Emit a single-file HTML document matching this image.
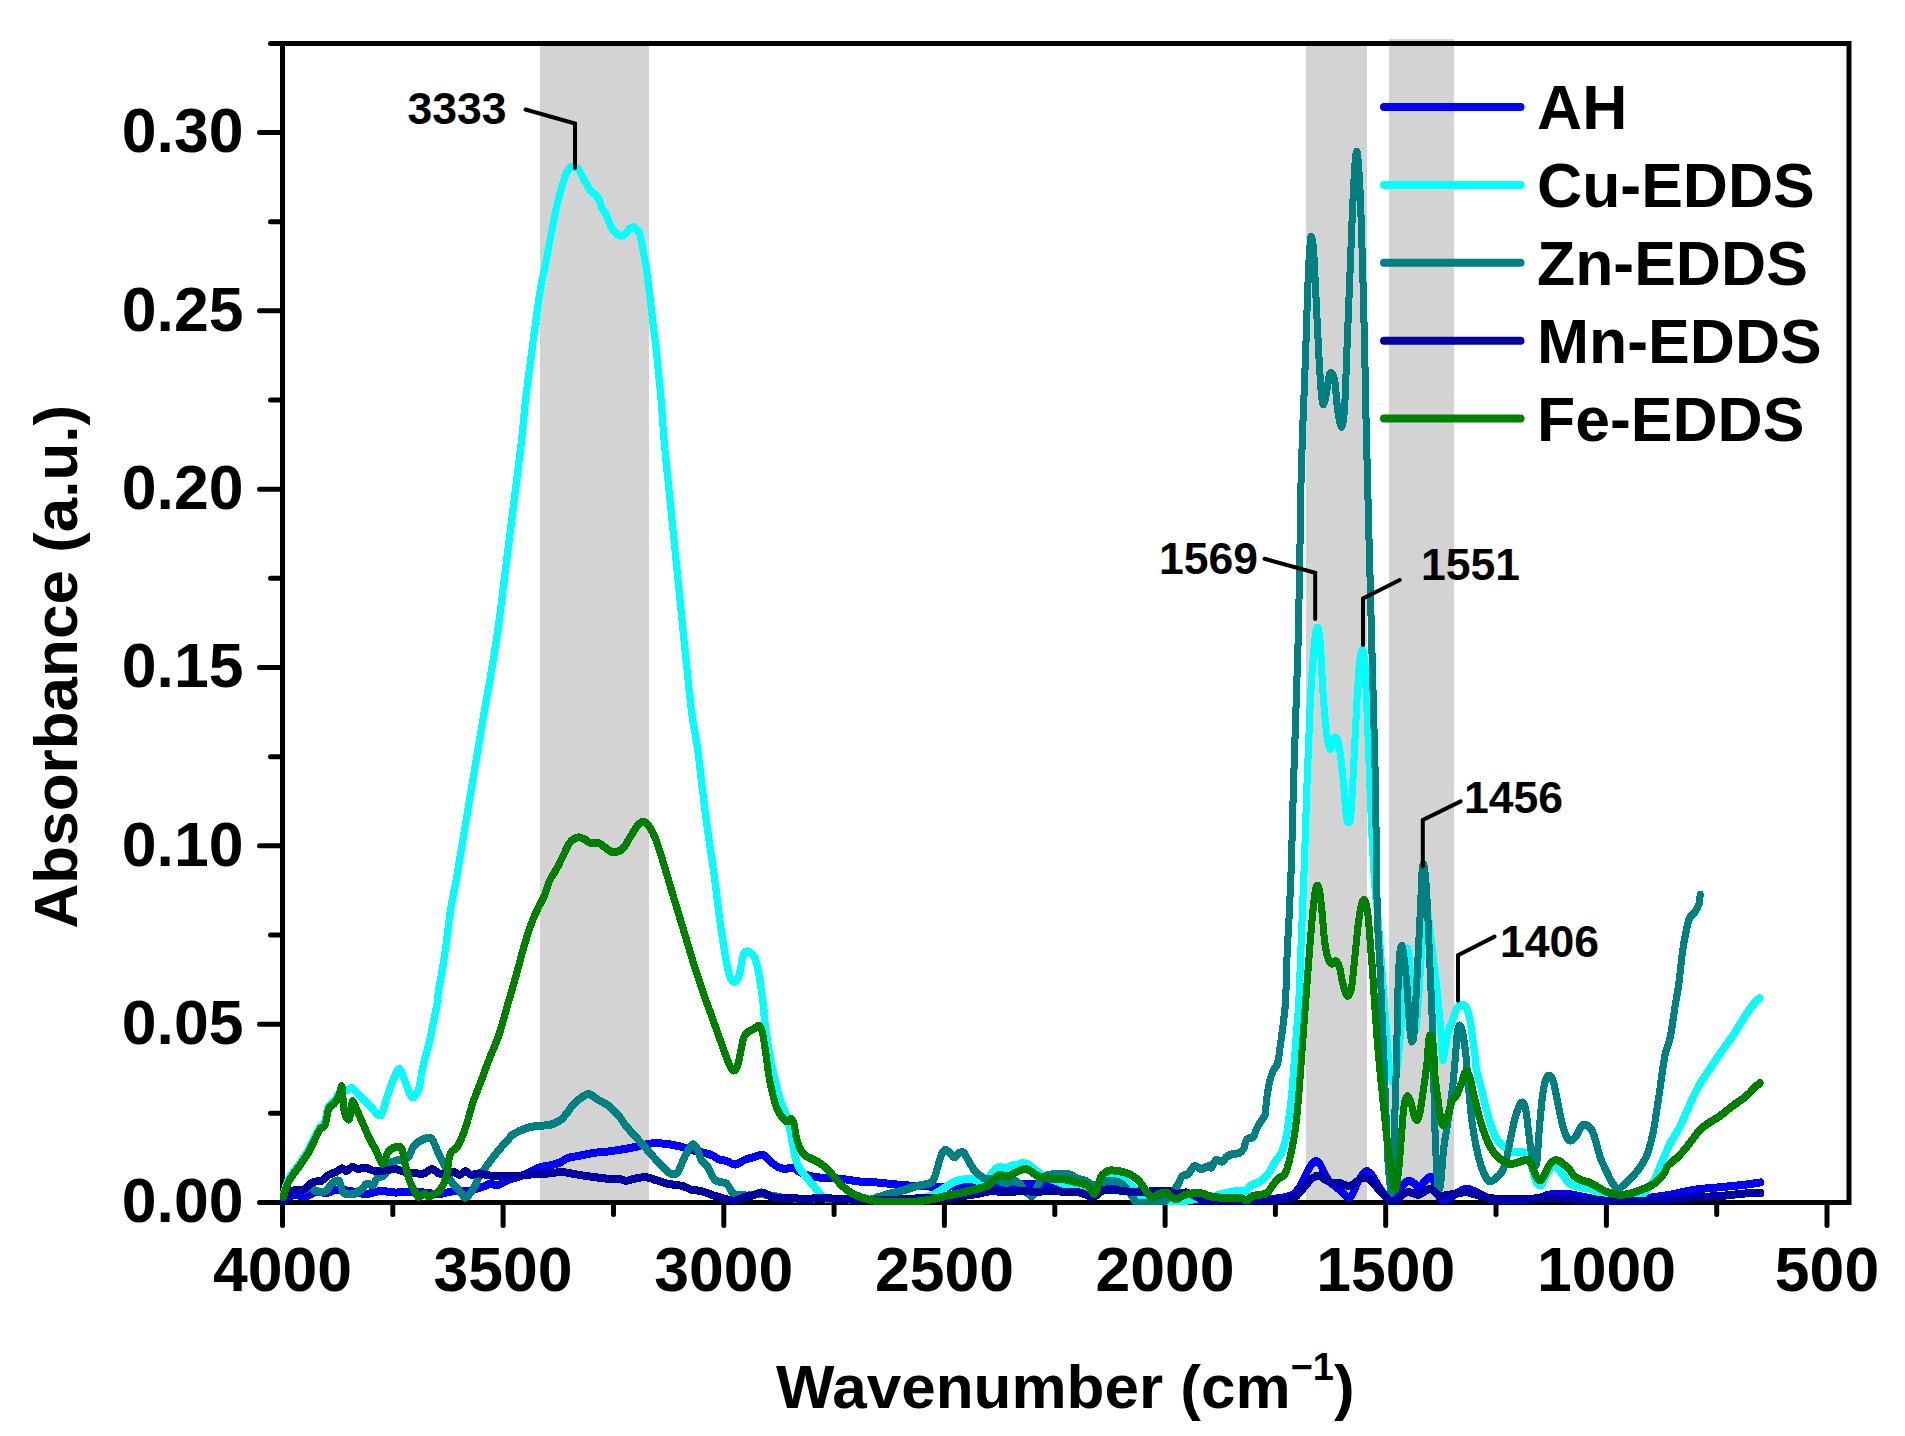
<!DOCTYPE html>
<html lang="en"><head><meta charset="utf-8">
<style>
html,body{margin:0;padding:0;background:#fff;}
body{width:1905px;height:1436px;overflow:hidden;}
svg{display:block;}
text{font-family:"Liberation Sans",Arial,Helvetica,sans-serif;font-weight:bold;fill:#000;}
.t{font-size:62.5px;}
.a{font-size:44.5px;}
.c{fill:none;stroke-width:7.0;stroke-linecap:round;stroke-linejoin:round;}
.k{fill:none;stroke:#000;stroke-width:4;stroke-linecap:round;stroke-linejoin:miter;}
.x{stroke:#000;stroke-width:5;stroke-linecap:round;fill:none;}
</style></head><body>
<svg width="1905" height="1436" viewBox="0 0 1905 1436">
<rect x="0" y="0" width="1905" height="1436" fill="#fff"/>
<g fill="#d3d3d3" shape-rendering="crispEdges">
<rect x="540" y="44" width="109" height="1158"/>
<rect x="1306" y="44" width="61" height="1158"/>
<rect x="1389" y="39" width="65" height="1163"/>
</g>
<g class="x">
<path stroke-linecap="square" d="M282.5 43.5H1849.0V1202.5H282.5Z"/>
<path d="M282.5 1202.5H259.5"/>
<path d="M282.5 1113.3H270.5"/>
<path d="M282.5 1024.2H259.5"/>
<path d="M282.5 935.0H270.5"/>
<path d="M282.5 845.8H259.5"/>
<path d="M282.5 756.7H270.5"/>
<path d="M282.5 667.5H259.5"/>
<path d="M282.5 578.3H270.5"/>
<path d="M282.5 489.2H259.5"/>
<path d="M282.5 400.0H270.5"/>
<path d="M282.5 310.8H259.5"/>
<path d="M282.5 221.7H270.5"/>
<path d="M282.5 132.5H259.5"/>
<path d="M282.5 43.5H270.5"/>
<path d="M282.5 1202.5V1225.5"/>
<path d="M392.8 1202.5V1214.5"/>
<path d="M503.1 1202.5V1225.5"/>
<path d="M613.5 1202.5V1214.5"/>
<path d="M723.8 1202.5V1225.5"/>
<path d="M834.1 1202.5V1214.5"/>
<path d="M944.4 1202.5V1225.5"/>
<path d="M1054.8 1202.5V1214.5"/>
<path d="M1165.1 1202.5V1225.5"/>
<path d="M1275.4 1202.5V1214.5"/>
<path d="M1385.7 1202.5V1225.5"/>
<path d="M1496.0 1202.5V1214.5"/>
<path d="M1606.4 1202.5V1225.5"/>
<path d="M1716.7 1202.5V1214.5"/>
<path d="M1827.0 1202.5V1225.5"/>
</g>
<clipPath id="cp"><rect x="280.0" y="41.0" width="1571.5" height="1164.0"/></clipPath>
<g class="c" clip-path="url(#cp)" shape-rendering="crispEdges">
<path stroke="#0000ff" transform="translate(0 -0.5)" d="M283.2 1202.1C284.7 1201.0 288.1 1196.5 292.0 1195.5C296.0 1194.5 303.1 1196.7 306.7 1196.2C310.4 1195.7 310.4 1193.2 314.1 1192.5C317.8 1191.9 325.1 1193.0 328.8 1192.5C332.5 1192.1 332.5 1189.9 336.1 1189.6C339.8 1189.4 345.9 1190.3 350.8 1191.1C355.7 1191.8 360.6 1194.0 365.5 1194.0C370.4 1194.0 375.3 1191.3 380.2 1191.1C385.1 1190.8 390.0 1192.4 394.9 1192.5C399.8 1192.7 404.7 1191.8 409.6 1191.8C414.5 1191.8 419.4 1192.2 424.3 1192.5C429.2 1192.9 434.1 1194.3 439.0 1194.0C443.9 1193.8 448.8 1191.6 453.7 1191.1C458.6 1190.6 463.5 1191.8 468.4 1191.1C473.3 1190.3 479.4 1187.9 483.1 1186.7C486.8 1185.4 488.0 1184.0 490.5 1183.7C492.9 1183.5 494.9 1185.8 497.8 1185.2C500.8 1184.6 504.4 1181.5 508.1 1180.1C511.8 1178.6 516.7 1177.5 519.9 1176.4C523.1 1175.3 524.0 1174.9 527.2 1173.4C530.4 1172.0 535.2 1168.9 539.0 1167.6C542.8 1166.2 546.4 1166.2 550.0 1165.4C553.6 1164.5 557.3 1163.6 560.3 1162.4C563.2 1161.2 564.5 1159.1 567.6 1158.0C570.8 1156.9 575.0 1156.7 579.4 1155.8C583.8 1154.9 589.2 1153.6 594.1 1152.9C599.0 1152.1 603.9 1152.0 608.8 1151.4C613.7 1150.8 619.1 1149.9 623.5 1149.2C627.9 1148.5 631.8 1147.7 635.2 1147.0C638.7 1146.2 641.1 1145.4 644.1 1144.8C647.0 1144.2 649.0 1143.4 652.9 1143.3C656.8 1143.2 662.7 1143.4 667.6 1144.0C672.5 1144.7 678.4 1146.0 682.3 1147.0C686.2 1148.0 687.4 1148.9 691.1 1149.9C694.8 1150.9 700.9 1152.0 704.3 1152.9C707.8 1153.7 709.2 1154.0 711.7 1155.1C714.1 1156.2 716.6 1158.5 719.0 1159.5C721.5 1160.5 723.7 1160.1 726.4 1160.9C729.1 1161.8 732.3 1164.7 735.2 1164.6C738.1 1164.5 741.1 1161.4 744.0 1160.2C747.0 1159.0 750.1 1158.1 752.8 1157.3C755.5 1156.4 758.2 1155.3 760.2 1155.1C762.1 1154.8 762.9 1154.7 764.6 1155.8C766.3 1156.9 768.3 1159.8 770.5 1161.7C772.7 1163.5 775.4 1165.6 777.8 1166.8C780.3 1168.0 782.7 1168.9 785.2 1169.0C787.6 1169.2 790.1 1167.1 792.5 1167.6C795.0 1168.0 797.2 1170.6 799.9 1172.0C802.6 1173.3 805.0 1174.7 808.7 1175.6C812.4 1176.6 818.4 1177.5 821.9 1177.8C825.5 1178.2 826.2 1177.6 830.0 1177.8C833.8 1178.1 839.8 1178.7 844.7 1179.3C849.6 1179.9 854.5 1181.0 859.4 1181.5C864.3 1182.0 869.2 1181.9 874.1 1182.3C879.0 1182.6 883.9 1183.2 888.8 1183.7C893.7 1184.2 898.6 1184.8 903.5 1185.2C908.4 1185.6 913.3 1185.7 918.2 1185.9C923.1 1186.2 928.0 1186.5 932.9 1186.7C937.8 1186.8 942.7 1186.8 947.6 1186.7C952.5 1186.5 957.4 1186.1 962.3 1185.9C967.2 1185.8 972.1 1185.8 977.0 1185.9C981.9 1186.1 987.3 1186.2 991.7 1186.7C996.1 1187.2 999.5 1189.0 1003.4 1188.9C1007.4 1188.7 1011.0 1186.8 1015.2 1185.9C1019.4 1185.1 1023.8 1183.8 1028.4 1183.7C1033.1 1183.6 1038.2 1184.7 1043.1 1185.2C1048.0 1185.7 1052.9 1186.4 1057.8 1186.7C1062.7 1186.9 1067.6 1186.4 1072.5 1186.7C1077.4 1186.9 1082.3 1187.9 1087.2 1188.1C1092.1 1188.4 1098.1 1188.1 1101.9 1188.1C1105.7 1188.1 1106.2 1187.9 1110.0 1188.1C1113.8 1188.4 1119.8 1189.1 1124.7 1189.6C1129.6 1190.1 1134.5 1190.3 1139.4 1191.1C1144.3 1191.8 1149.2 1193.3 1154.1 1194.0C1159.0 1194.8 1161.4 1194.5 1168.8 1195.5C1176.1 1196.5 1190.8 1198.8 1198.2 1199.9C1205.5 1201.0 1205.5 1201.6 1212.9 1202.1C1220.2 1202.6 1234.9 1203.0 1242.3 1202.8C1249.6 1202.7 1252.1 1202.0 1257.0 1201.4C1261.9 1200.8 1266.8 1199.9 1271.7 1199.2C1276.6 1198.4 1282.7 1197.8 1286.4 1197.0C1290.1 1196.1 1291.5 1195.7 1293.7 1194.0C1295.9 1192.3 1297.6 1189.9 1299.6 1186.7C1301.6 1183.5 1303.5 1178.6 1305.5 1174.9C1307.4 1171.2 1309.7 1166.9 1311.4 1164.6C1313.1 1162.3 1314.3 1160.9 1315.8 1160.9C1317.2 1160.9 1318.5 1162.0 1320.2 1164.6C1321.9 1167.2 1324.1 1173.2 1326.1 1176.4C1328.0 1179.6 1329.7 1181.5 1331.9 1183.7C1334.1 1185.9 1337.1 1187.6 1339.3 1189.6C1341.5 1191.6 1343.6 1194.1 1345.2 1195.5C1346.8 1196.8 1347.6 1197.9 1348.8 1197.7C1350.1 1197.4 1350.9 1196.8 1352.5 1194.0C1354.1 1191.2 1356.4 1184.3 1358.4 1180.8C1360.4 1177.2 1362.8 1174.3 1364.3 1172.7C1365.7 1171.1 1366.0 1170.9 1367.2 1171.2C1368.4 1171.6 1369.7 1172.3 1371.6 1174.9C1373.6 1177.5 1376.5 1183.0 1379.0 1186.7C1381.4 1190.3 1384.1 1194.7 1386.3 1197.0C1388.5 1199.2 1390.4 1200.4 1392.3 1200.4C1394.2 1200.4 1396.2 1199.5 1397.9 1197.1C1399.5 1194.7 1400.8 1188.5 1402.3 1185.9C1403.8 1183.3 1405.5 1182.3 1406.8 1181.5C1408.1 1180.6 1408.8 1180.5 1410.1 1180.9C1411.4 1181.3 1413.1 1182.5 1414.6 1183.7C1416.1 1184.9 1417.5 1188.3 1419.0 1188.2C1420.5 1188.0 1422.0 1184.3 1423.5 1182.6C1425.0 1180.9 1426.5 1179.0 1427.9 1178.1C1429.3 1177.3 1430.7 1176.6 1431.8 1177.6C1433.0 1178.5 1433.6 1180.8 1434.6 1183.7C1435.6 1186.6 1436.7 1192.1 1438.0 1194.8C1439.3 1197.6 1440.8 1199.7 1442.4 1200.4C1444.1 1201.2 1446.0 1200.2 1448.0 1199.3C1450.0 1198.4 1452.5 1196.3 1454.7 1194.8C1456.9 1193.4 1459.3 1191.4 1461.4 1190.4C1463.4 1189.4 1465.1 1188.7 1466.9 1188.7C1468.8 1188.7 1470.1 1189.4 1472.5 1190.4C1474.9 1191.4 1478.1 1193.4 1481.4 1194.8C1484.8 1196.3 1487.0 1198.4 1492.6 1199.3C1498.1 1200.2 1507.4 1200.6 1514.8 1200.4C1522.3 1200.2 1531.6 1199.1 1537.1 1198.2C1542.7 1197.3 1544.6 1195.6 1548.3 1194.8C1552.0 1194.1 1555.8 1193.8 1559.4 1193.7C1563.0 1193.6 1563.9 1193.4 1570.0 1194.3C1576.1 1195.2 1589.0 1198.2 1595.8 1199.2C1602.5 1200.1 1605.6 1199.8 1610.5 1199.9C1615.4 1200.0 1620.3 1200.0 1625.2 1199.9C1630.1 1199.8 1635.0 1199.7 1639.9 1199.2C1644.8 1198.7 1649.5 1197.7 1654.6 1197.0C1659.6 1196.2 1663.4 1195.9 1670.1 1194.7C1676.9 1193.5 1686.9 1190.9 1695.2 1189.7C1703.6 1188.4 1711.9 1188.0 1720.3 1187.2C1728.6 1186.4 1738.6 1185.5 1745.3 1184.7C1752.1 1183.9 1758.1 1182.8 1760.6 1182.4"/>
<path stroke="#0000ff" transform="translate(0 0.5)" d="M283.2 1202.1C284.7 1201.0 288.1 1196.5 292.0 1195.5C296.0 1194.5 303.1 1196.7 306.7 1196.2C310.4 1195.7 310.4 1193.2 314.1 1192.5C317.8 1191.9 325.1 1193.0 328.8 1192.5C332.5 1192.1 332.5 1189.9 336.1 1189.6C339.8 1189.4 345.9 1190.3 350.8 1191.1C355.7 1191.8 360.6 1194.0 365.5 1194.0C370.4 1194.0 375.3 1191.3 380.2 1191.1C385.1 1190.8 390.0 1192.4 394.9 1192.5C399.8 1192.7 404.7 1191.8 409.6 1191.8C414.5 1191.8 419.4 1192.2 424.3 1192.5C429.2 1192.9 434.1 1194.3 439.0 1194.0C443.9 1193.8 448.8 1191.6 453.7 1191.1C458.6 1190.6 463.5 1191.8 468.4 1191.1C473.3 1190.3 479.4 1187.9 483.1 1186.7C486.8 1185.4 488.0 1184.0 490.5 1183.7C492.9 1183.5 494.9 1185.8 497.8 1185.2C500.8 1184.6 504.4 1181.5 508.1 1180.1C511.8 1178.6 516.7 1177.5 519.9 1176.4C523.1 1175.3 524.0 1174.9 527.2 1173.4C530.4 1172.0 535.2 1168.9 539.0 1167.6C542.8 1166.2 546.4 1166.2 550.0 1165.4C553.6 1164.5 557.3 1163.6 560.3 1162.4C563.2 1161.2 564.5 1159.1 567.6 1158.0C570.8 1156.9 575.0 1156.7 579.4 1155.8C583.8 1154.9 589.2 1153.6 594.1 1152.9C599.0 1152.1 603.9 1152.0 608.8 1151.4C613.7 1150.8 619.1 1149.9 623.5 1149.2C627.9 1148.5 631.8 1147.7 635.2 1147.0C638.7 1146.2 641.1 1145.4 644.1 1144.8C647.0 1144.2 649.0 1143.4 652.9 1143.3C656.8 1143.2 662.7 1143.4 667.6 1144.0C672.5 1144.7 678.4 1146.0 682.3 1147.0C686.2 1148.0 687.4 1148.9 691.1 1149.9C694.8 1150.9 700.9 1152.0 704.3 1152.9C707.8 1153.7 709.2 1154.0 711.7 1155.1C714.1 1156.2 716.6 1158.5 719.0 1159.5C721.5 1160.5 723.7 1160.1 726.4 1160.9C729.1 1161.8 732.3 1164.7 735.2 1164.6C738.1 1164.5 741.1 1161.4 744.0 1160.2C747.0 1159.0 750.1 1158.1 752.8 1157.3C755.5 1156.4 758.2 1155.3 760.2 1155.1C762.1 1154.8 762.9 1154.7 764.6 1155.8C766.3 1156.9 768.3 1159.8 770.5 1161.7C772.7 1163.5 775.4 1165.6 777.8 1166.8C780.3 1168.0 782.7 1168.9 785.2 1169.0C787.6 1169.2 790.1 1167.1 792.5 1167.6C795.0 1168.0 797.2 1170.6 799.9 1172.0C802.6 1173.3 805.0 1174.7 808.7 1175.6C812.4 1176.6 818.4 1177.5 821.9 1177.8C825.5 1178.2 826.2 1177.6 830.0 1177.8C833.8 1178.1 839.8 1178.7 844.7 1179.3C849.6 1179.9 854.5 1181.0 859.4 1181.5C864.3 1182.0 869.2 1181.9 874.1 1182.3C879.0 1182.6 883.9 1183.2 888.8 1183.7C893.7 1184.2 898.6 1184.8 903.5 1185.2C908.4 1185.6 913.3 1185.7 918.2 1185.9C923.1 1186.2 928.0 1186.5 932.9 1186.7C937.8 1186.8 942.7 1186.8 947.6 1186.7C952.5 1186.5 957.4 1186.1 962.3 1185.9C967.2 1185.8 972.1 1185.8 977.0 1185.9C981.9 1186.1 987.3 1186.2 991.7 1186.7C996.1 1187.2 999.5 1189.0 1003.4 1188.9C1007.4 1188.7 1011.0 1186.8 1015.2 1185.9C1019.4 1185.1 1023.8 1183.8 1028.4 1183.7C1033.1 1183.6 1038.2 1184.7 1043.1 1185.2C1048.0 1185.7 1052.9 1186.4 1057.8 1186.7C1062.7 1186.9 1067.6 1186.4 1072.5 1186.7C1077.4 1186.9 1082.3 1187.9 1087.2 1188.1C1092.1 1188.4 1098.1 1188.1 1101.9 1188.1C1105.7 1188.1 1106.2 1187.9 1110.0 1188.1C1113.8 1188.4 1119.8 1189.1 1124.7 1189.6C1129.6 1190.1 1134.5 1190.3 1139.4 1191.1C1144.3 1191.8 1149.2 1193.3 1154.1 1194.0C1159.0 1194.8 1161.4 1194.5 1168.8 1195.5C1176.1 1196.5 1190.8 1198.8 1198.2 1199.9C1205.5 1201.0 1205.5 1201.6 1212.9 1202.1C1220.2 1202.6 1234.9 1203.0 1242.3 1202.8C1249.6 1202.7 1252.1 1202.0 1257.0 1201.4C1261.9 1200.8 1266.8 1199.9 1271.7 1199.2C1276.6 1198.4 1282.7 1197.8 1286.4 1197.0C1290.1 1196.1 1291.5 1195.7 1293.7 1194.0C1295.9 1192.3 1297.6 1189.9 1299.6 1186.7C1301.6 1183.5 1303.5 1178.6 1305.5 1174.9C1307.4 1171.2 1309.7 1166.9 1311.4 1164.6C1313.1 1162.3 1314.3 1160.9 1315.8 1160.9C1317.2 1160.9 1318.5 1162.0 1320.2 1164.6C1321.9 1167.2 1324.1 1173.2 1326.1 1176.4C1328.0 1179.6 1329.7 1181.5 1331.9 1183.7C1334.1 1185.9 1337.1 1187.6 1339.3 1189.6C1341.5 1191.6 1343.6 1194.1 1345.2 1195.5C1346.8 1196.8 1347.6 1197.9 1348.8 1197.7C1350.1 1197.4 1350.9 1196.8 1352.5 1194.0C1354.1 1191.2 1356.4 1184.3 1358.4 1180.8C1360.4 1177.2 1362.8 1174.3 1364.3 1172.7C1365.7 1171.1 1366.0 1170.9 1367.2 1171.2C1368.4 1171.6 1369.7 1172.3 1371.6 1174.9C1373.6 1177.5 1376.5 1183.0 1379.0 1186.7C1381.4 1190.3 1384.1 1194.7 1386.3 1197.0C1388.5 1199.2 1390.4 1200.4 1392.3 1200.4C1394.2 1200.4 1396.2 1199.5 1397.9 1197.1C1399.5 1194.7 1400.8 1188.5 1402.3 1185.9C1403.8 1183.3 1405.5 1182.3 1406.8 1181.5C1408.1 1180.6 1408.8 1180.5 1410.1 1180.9C1411.4 1181.3 1413.1 1182.5 1414.6 1183.7C1416.1 1184.9 1417.5 1188.3 1419.0 1188.2C1420.5 1188.0 1422.0 1184.3 1423.5 1182.6C1425.0 1180.9 1426.5 1179.0 1427.9 1178.1C1429.3 1177.3 1430.7 1176.6 1431.8 1177.6C1433.0 1178.5 1433.6 1180.8 1434.6 1183.7C1435.6 1186.6 1436.7 1192.1 1438.0 1194.8C1439.3 1197.6 1440.8 1199.7 1442.4 1200.4C1444.1 1201.2 1446.0 1200.2 1448.0 1199.3C1450.0 1198.4 1452.5 1196.3 1454.7 1194.8C1456.9 1193.4 1459.3 1191.4 1461.4 1190.4C1463.4 1189.4 1465.1 1188.7 1466.9 1188.7C1468.8 1188.7 1470.1 1189.4 1472.5 1190.4C1474.9 1191.4 1478.1 1193.4 1481.4 1194.8C1484.8 1196.3 1487.0 1198.4 1492.6 1199.3C1498.1 1200.2 1507.4 1200.6 1514.8 1200.4C1522.3 1200.2 1531.6 1199.1 1537.1 1198.2C1542.7 1197.3 1544.6 1195.6 1548.3 1194.8C1552.0 1194.1 1555.8 1193.8 1559.4 1193.7C1563.0 1193.6 1563.9 1193.4 1570.0 1194.3C1576.1 1195.2 1589.0 1198.2 1595.8 1199.2C1602.5 1200.1 1605.6 1199.8 1610.5 1199.9C1615.4 1200.0 1620.3 1200.0 1625.2 1199.9C1630.1 1199.8 1635.0 1199.7 1639.9 1199.2C1644.8 1198.7 1649.5 1197.7 1654.6 1197.0C1659.6 1196.2 1663.4 1195.9 1670.1 1194.7C1676.9 1193.5 1686.9 1190.9 1695.2 1189.7C1703.6 1188.4 1711.9 1188.0 1720.3 1187.2C1728.6 1186.4 1738.6 1185.5 1745.3 1184.7C1752.1 1183.9 1758.1 1182.8 1760.6 1182.4"/>
<path stroke="#00ffff" transform="translate(0 -0.5)" d="M282.9 1196.2C283.8 1193.4 285.8 1184.6 288.4 1179.3C291.0 1174.1 295.5 1169.3 298.7 1164.6C301.8 1160.0 305.0 1155.6 307.5 1151.4C309.9 1147.2 311.4 1143.6 313.4 1139.6C315.3 1135.7 317.4 1130.6 319.2 1127.9C321.1 1125.1 322.9 1126.6 324.4 1123.2C325.9 1119.7 326.5 1110.9 328.1 1107.3C329.7 1103.7 332.3 1103.5 333.9 1101.4C335.6 1099.3 336.6 1096.6 337.9 1094.8C339.3 1093.0 340.5 1091.1 342.0 1090.4C343.6 1089.7 345.5 1090.8 347.2 1090.4C348.9 1090.0 350.0 1087.1 352.3 1088.2C354.6 1089.3 358.2 1094.1 361.1 1097.0C364.1 1099.9 366.8 1102.8 369.9 1105.8C373.1 1108.9 377.5 1116.4 380.2 1115.4C382.9 1114.4 384.2 1105.5 386.1 1099.9C388.1 1094.4 389.8 1087.5 392.0 1082.3C394.2 1077.2 397.1 1069.1 399.3 1069.1C401.5 1069.1 403.1 1077.7 405.2 1082.3C407.3 1087.0 409.6 1095.8 411.8 1097.0C414.0 1098.2 416.6 1094.8 418.5 1089.7C420.3 1084.5 421.1 1073.7 422.9 1066.1C424.6 1058.5 427.0 1051.2 428.7 1044.1C430.5 1037.0 431.7 1030.9 433.1 1023.5C434.6 1016.2 436.7 1005.5 437.6 1000.0C438.4 994.5 437.5 996.2 438.4 990.6C439.3 985.0 441.4 975.5 442.8 966.3C444.3 957.2 446.0 945.0 447.2 935.5C448.5 925.9 449.1 918.2 450.6 909.0C452.0 899.8 454.2 890.6 456.1 880.4C457.9 870.1 459.7 858.3 461.6 847.3C463.4 836.3 465.2 825.2 467.1 814.2C468.9 803.2 470.8 792.2 472.6 781.1C474.4 770.1 476.3 759.1 478.1 748.1C479.9 737.0 481.2 728.9 483.6 715.0C486.0 701.1 489.9 680.3 492.4 664.6C495.0 648.8 497.0 635.2 499.1 620.5C501.1 605.8 502.7 591.1 504.6 576.4C506.4 561.7 508.2 547.0 510.1 532.3C511.9 517.6 513.8 502.9 515.6 488.2C517.4 473.5 519.4 458.8 521.1 444.1C522.8 429.4 524.1 413.0 525.5 400.0C527.0 387.0 528.4 376.6 529.8 366.2C531.1 355.9 532.3 347.3 533.5 337.9C534.8 328.4 536.1 318.3 537.3 309.5C538.6 300.7 539.7 292.8 541.1 285.0C542.5 277.1 544.4 269.5 545.8 262.3C547.2 255.0 548.3 248.1 549.6 241.5C550.9 234.9 552.1 228.9 553.4 222.6C554.6 216.3 555.7 209.7 557.2 203.7C558.6 197.7 560.3 191.9 561.9 186.7C563.5 181.5 564.9 175.8 566.6 172.5C568.3 169.2 570.4 167.5 572.3 166.9C574.2 166.2 576.4 167.3 578.0 168.7C579.5 170.2 580.3 172.8 581.7 175.4C583.1 177.9 584.9 181.2 586.5 183.9C588.0 186.5 589.6 189.5 591.2 191.4C592.8 193.3 594.5 193.6 595.9 195.2C597.3 196.8 598.7 198.8 599.7 200.9C600.6 202.9 600.5 205.1 601.6 207.5C602.7 209.8 604.9 212.2 606.3 215.0C607.7 217.9 608.8 221.8 610.1 224.5C611.3 227.2 612.0 229.2 613.9 231.1C615.7 233.0 619.2 235.7 621.4 235.8C623.6 236.0 625.7 233.3 627.1 232.0C628.5 230.8 628.8 229.1 629.9 228.3C631.0 227.5 632.4 227.0 633.7 227.3C635.0 227.6 636.4 228.7 637.5 230.2C638.6 231.6 639.4 232.4 640.3 235.8C641.3 239.3 642.2 245.9 643.1 250.9C644.1 256.0 645.2 261.0 646.0 266.1C646.8 271.1 647.1 274.9 647.9 281.2C648.7 287.5 649.8 296.0 650.7 303.9C651.7 311.7 652.6 320.6 653.5 328.4C654.5 336.3 655.6 343.9 656.4 351.1C657.2 358.3 657.5 363.7 658.3 371.9C659.1 380.0 660.1 388.0 661.1 400.0C662.1 412.1 663.1 429.4 664.4 444.1C665.7 458.8 667.3 473.5 668.8 488.2C670.3 502.9 671.8 517.6 673.2 532.3C674.7 547.0 676.2 561.7 677.6 576.4C679.1 591.1 680.6 605.8 682.0 620.5C683.5 635.2 684.8 648.8 686.5 664.6C688.1 680.3 690.1 701.1 692.0 715.1C693.8 729.0 695.8 736.3 697.5 748.1C699.1 759.8 700.4 773.4 701.9 785.6C703.4 797.7 704.8 809.8 706.3 820.8C707.8 831.9 709.2 841.4 710.7 851.7C712.2 862.0 713.6 871.0 715.1 882.6C716.6 894.1 718.6 911.1 719.9 921.0C721.2 930.9 722.0 935.3 723.0 942.0C724.1 948.6 725.1 955.3 726.2 960.9C727.2 966.5 728.3 972.3 729.3 975.6C730.4 978.9 731.6 979.8 732.5 980.8C733.4 981.9 733.8 982.1 734.6 981.9C735.4 981.7 736.3 981.4 737.2 979.8C738.1 978.2 739.1 975.6 739.8 972.4C740.6 969.3 741.2 964.0 741.9 960.9C742.6 957.7 743.2 955.1 744.0 953.5C744.9 952.0 746.0 951.4 747.2 951.4C748.4 951.4 750.1 952.3 751.4 953.5C752.7 954.8 754.0 956.3 755.1 958.8C756.1 961.2 756.9 964.7 757.7 968.2C758.5 971.7 759.1 975.4 759.8 979.8C760.5 984.2 761.2 989.4 761.9 994.5C762.6 999.6 763.6 1006.9 764.0 1010.2C764.3 1013.6 763.4 1009.5 764.0 1014.7C764.6 1019.9 766.2 1032.6 767.5 1041.2C768.8 1049.7 770.5 1058.8 771.9 1066.1C773.4 1073.5 774.9 1079.4 776.4 1085.2C777.8 1091.1 779.0 1096.3 780.8 1101.4C782.5 1106.6 785.2 1111.5 786.6 1116.1C788.1 1120.8 788.6 1124.7 789.6 1129.3C790.6 1134.0 791.5 1139.1 792.5 1144.0C793.5 1148.9 794.2 1154.6 795.5 1158.7C796.7 1162.9 798.2 1166.1 799.9 1169.0C801.6 1172.0 803.5 1173.7 805.7 1176.4C808.0 1179.1 810.6 1182.3 813.1 1185.2C815.5 1188.1 818.2 1191.8 820.4 1194.0C822.7 1196.3 822.3 1197.9 826.3 1198.7C830.4 1199.6 834.3 1198.8 844.7 1199.0C855.1 1199.2 876.5 1199.9 888.8 1199.9C901.0 1199.9 911.1 1199.7 918.2 1199.0C925.3 1198.3 927.5 1197.1 931.4 1195.5C935.3 1193.9 938.5 1191.6 941.7 1189.6C944.9 1187.6 947.6 1185.3 950.5 1183.7C953.5 1182.1 955.9 1180.8 959.3 1180.1C962.8 1179.3 967.9 1179.2 971.1 1179.3C974.3 1179.4 976.0 1180.7 978.5 1180.8C980.9 1180.9 983.6 1181.3 985.8 1180.1C988.0 1178.8 990.0 1175.4 991.7 1173.4C993.4 1171.5 994.6 1169.4 996.1 1168.3C997.6 1167.2 999.0 1166.8 1000.5 1166.8C1002.0 1166.8 1002.9 1168.5 1004.9 1168.3C1006.9 1168.0 1010.1 1166.0 1012.3 1165.4C1014.5 1164.7 1016.4 1165.0 1018.1 1164.6C1019.9 1164.3 1020.8 1163.1 1022.5 1163.1C1024.3 1163.1 1026.2 1163.4 1028.4 1164.6C1030.6 1165.8 1033.6 1168.8 1035.8 1170.5C1038.0 1172.2 1039.7 1173.7 1041.7 1174.9C1043.6 1176.1 1044.6 1176.6 1047.5 1177.8C1050.5 1179.1 1055.4 1180.8 1059.3 1182.3C1063.2 1183.7 1067.6 1185.7 1071.0 1186.7C1074.5 1187.6 1076.4 1187.4 1079.9 1188.1C1083.3 1188.9 1088.2 1192.3 1091.6 1191.1C1095.1 1189.9 1098.0 1183.2 1100.4 1180.8C1102.9 1178.3 1104.7 1177.4 1106.3 1176.4C1107.9 1175.4 1106.9 1174.2 1110.0 1174.9C1113.1 1175.6 1121.0 1178.8 1124.7 1180.8C1128.4 1182.7 1129.6 1184.2 1132.0 1186.7C1134.5 1189.1 1137.2 1192.9 1139.4 1195.5C1141.6 1198.1 1142.8 1200.9 1145.3 1202.1C1147.7 1203.3 1148.2 1202.9 1154.1 1202.8C1160.0 1202.8 1174.4 1202.1 1180.6 1201.7C1186.7 1201.2 1187.9 1200.4 1190.8 1199.9C1193.8 1199.4 1195.0 1198.8 1198.2 1198.4C1201.4 1198.1 1206.0 1198.4 1209.9 1197.7C1213.9 1197.0 1217.3 1195.1 1221.7 1194.0C1226.1 1192.9 1232.5 1191.6 1236.4 1191.1C1240.3 1190.6 1242.8 1192.1 1245.2 1191.1C1247.7 1190.1 1249.1 1186.5 1251.1 1185.2C1253.1 1183.8 1255.0 1184.0 1257.0 1183.0C1258.9 1182.0 1261.1 1180.7 1262.9 1179.3C1264.6 1178.0 1265.8 1176.9 1267.3 1174.9C1268.7 1172.9 1270.2 1170.0 1271.7 1167.6C1273.1 1165.1 1274.4 1162.9 1276.1 1160.2C1277.8 1157.5 1280.3 1155.6 1282.0 1151.4C1283.7 1147.2 1285.2 1141.3 1286.4 1135.2C1287.6 1129.1 1288.3 1122.5 1289.3 1114.6C1290.3 1106.8 1291.4 1097.5 1292.3 1088.2C1293.1 1078.9 1293.7 1068.6 1294.5 1058.8C1295.2 1049.0 1295.9 1039.2 1296.7 1029.4C1297.4 1019.6 1298.1 1015.9 1298.9 1000.0C1299.7 984.1 1300.6 956.8 1301.5 934.3C1302.4 911.7 1303.4 890.2 1304.3 864.6C1305.2 839.1 1306.2 806.6 1307.1 781.1C1308.0 755.5 1309.0 730.9 1309.9 711.4C1310.8 691.9 1311.7 676.8 1312.7 664.1C1313.6 651.3 1314.6 640.9 1315.5 634.8C1316.3 628.8 1316.9 626.7 1317.7 627.9C1318.5 629.0 1319.4 632.5 1320.2 641.8C1321.0 651.1 1321.6 670.6 1322.4 683.6C1323.3 696.6 1324.3 710.0 1325.2 719.8C1326.1 729.5 1327.1 737.2 1328.0 742.1C1328.9 746.9 1329.9 749.3 1330.8 749.0C1331.7 748.8 1332.6 742.5 1333.6 740.7C1334.5 738.8 1335.3 736.3 1336.4 737.9C1337.4 739.5 1338.5 743.2 1339.7 750.4C1340.9 757.6 1342.2 770.4 1343.3 781.1C1344.4 791.7 1345.3 807.6 1346.1 814.5C1346.9 821.4 1347.3 822.3 1348.1 822.3C1348.8 822.3 1349.9 823.7 1350.8 814.5C1351.8 805.3 1352.7 784.3 1353.6 767.1C1354.5 750.0 1355.5 728.4 1356.4 711.4C1357.3 694.5 1358.3 675.7 1359.2 665.5C1360.1 655.2 1361.0 650.6 1362.0 650.1C1362.9 649.7 1363.9 652.5 1364.8 662.7C1365.6 672.9 1366.2 694.0 1367.0 711.4C1367.7 728.8 1368.4 746.2 1369.2 767.1C1370.1 788.0 1371.0 815.9 1372.0 836.8C1373.0 857.7 1374.5 880.5 1375.3 892.5C1376.2 904.5 1376.3 897.9 1377.2 908.7C1378.2 919.6 1379.7 941.2 1380.9 957.5C1382.1 973.7 1383.3 990.0 1384.6 1006.2C1385.8 1022.5 1387.2 1043.6 1388.2 1055.0C1389.2 1066.4 1389.7 1070.0 1390.6 1074.5C1391.6 1079.0 1392.8 1084.4 1394.0 1082.0C1395.2 1079.6 1396.8 1070.3 1398.0 1060.0C1399.2 1049.7 1400.6 1034.2 1401.5 1020.0C1402.4 1005.8 1402.7 986.7 1403.5 975.0C1404.3 963.3 1405.6 953.3 1406.5 950.0C1407.4 946.7 1408.2 949.2 1409.0 955.0C1409.8 960.8 1410.3 975.0 1411.0 985.0C1411.7 995.0 1412.2 1007.5 1413.0 1015.0C1413.8 1022.5 1414.7 1031.7 1415.5 1030.0C1416.3 1028.3 1417.1 1016.7 1418.0 1005.0C1418.9 993.3 1420.1 975.0 1421.0 960.0C1421.9 945.0 1422.8 925.0 1423.5 915.0C1424.2 905.0 1424.8 901.0 1425.5 900.0C1426.2 899.0 1426.8 904.0 1427.5 909.0C1428.2 914.0 1429.1 922.3 1430.0 930.0C1430.9 937.7 1431.9 945.8 1433.0 955.0C1434.1 964.2 1435.4 975.0 1436.5 985.0C1437.6 995.0 1438.7 1005.5 1439.5 1015.0C1440.3 1024.5 1441.0 1034.5 1441.5 1042.0C1442.0 1049.5 1442.1 1059.3 1442.8 1060.0C1443.5 1060.7 1444.6 1050.9 1445.6 1046.0C1446.6 1041.0 1447.5 1034.6 1448.7 1030.2C1450.0 1025.9 1451.7 1023.1 1452.9 1019.7C1454.2 1016.4 1455.0 1012.7 1456.1 1010.3C1457.1 1007.9 1458.1 1006.5 1459.2 1005.6C1460.4 1004.7 1461.8 1004.6 1462.9 1004.8C1464.1 1005.1 1465.1 1005.5 1466.1 1007.1C1467.0 1008.7 1467.9 1011.5 1468.7 1014.5C1469.5 1017.5 1470.1 1020.6 1470.8 1025.0C1471.5 1029.4 1472.2 1035.5 1472.9 1040.7C1473.6 1046.0 1474.5 1052.2 1475.0 1056.5C1475.5 1060.8 1474.8 1061.3 1475.8 1066.7C1476.9 1072.1 1479.6 1081.6 1481.4 1089.0C1483.3 1096.4 1485.1 1104.4 1487.0 1111.3C1488.8 1118.2 1490.7 1125.2 1492.6 1130.2C1494.4 1135.2 1495.9 1138.4 1498.1 1141.4C1500.4 1144.3 1503.3 1146.3 1505.9 1148.1C1508.5 1149.8 1510.8 1151.2 1513.7 1151.9C1516.7 1152.7 1521.3 1151.7 1523.8 1152.5C1526.2 1153.3 1526.9 1154.5 1528.2 1157.0C1529.5 1159.4 1530.3 1162.9 1531.6 1167.0C1532.9 1171.1 1534.5 1178.4 1536.0 1181.5C1537.5 1184.5 1539.0 1185.9 1540.5 1185.4C1542.0 1184.8 1543.3 1181.0 1544.9 1178.1C1546.6 1175.3 1548.8 1170.1 1550.5 1168.1C1552.2 1166.1 1553.5 1165.5 1555.0 1165.9C1556.4 1166.2 1557.7 1168.3 1559.4 1170.3C1561.1 1172.4 1563.2 1175.9 1565.0 1178.1C1566.8 1180.4 1567.3 1182.2 1570.0 1183.7C1572.7 1185.2 1578.0 1186.7 1581.1 1187.4C1584.1 1188.1 1586.0 1187.5 1588.4 1188.1C1590.9 1188.7 1593.3 1189.9 1595.8 1191.1C1598.2 1192.3 1600.7 1194.5 1603.1 1195.5C1605.6 1196.5 1606.8 1196.6 1610.5 1197.0C1614.1 1197.3 1620.3 1197.9 1625.2 1197.7C1630.1 1197.4 1636.2 1196.8 1639.9 1195.5C1643.5 1194.1 1644.8 1192.3 1647.2 1189.6C1649.7 1186.9 1652.1 1184.0 1654.6 1179.3C1657.0 1174.7 1659.3 1167.7 1661.9 1161.7C1664.5 1155.7 1667.1 1149.3 1670.1 1143.3C1673.2 1137.3 1676.8 1132.5 1680.2 1125.8C1683.5 1119.1 1686.9 1110.3 1690.2 1103.2C1693.5 1096.1 1696.9 1089.0 1700.2 1083.1C1703.6 1077.3 1706.9 1073.1 1710.3 1068.1C1713.6 1063.1 1716.5 1058.5 1720.3 1053.1C1724.0 1047.6 1728.6 1041.8 1732.8 1035.5C1737.0 1029.2 1741.6 1021.1 1745.3 1015.5C1749.1 1009.8 1753.0 1004.5 1755.4 1001.7C1757.7 998.8 1758.7 999.0 1759.4 998.4"/>
<path stroke="#00ffff" transform="translate(0 0.5)" d="M282.9 1196.2C283.8 1193.4 285.8 1184.6 288.4 1179.3C291.0 1174.1 295.5 1169.3 298.7 1164.6C301.8 1160.0 305.0 1155.6 307.5 1151.4C309.9 1147.2 311.4 1143.6 313.4 1139.6C315.3 1135.7 317.4 1130.6 319.2 1127.9C321.1 1125.1 322.9 1126.6 324.4 1123.2C325.9 1119.7 326.5 1110.9 328.1 1107.3C329.7 1103.7 332.3 1103.5 333.9 1101.4C335.6 1099.3 336.6 1096.6 337.9 1094.8C339.3 1093.0 340.5 1091.1 342.0 1090.4C343.6 1089.7 345.5 1090.8 347.2 1090.4C348.9 1090.0 350.0 1087.1 352.3 1088.2C354.6 1089.3 358.2 1094.1 361.1 1097.0C364.1 1099.9 366.8 1102.8 369.9 1105.8C373.1 1108.9 377.5 1116.4 380.2 1115.4C382.9 1114.4 384.2 1105.5 386.1 1099.9C388.1 1094.4 389.8 1087.5 392.0 1082.3C394.2 1077.2 397.1 1069.1 399.3 1069.1C401.5 1069.1 403.1 1077.7 405.2 1082.3C407.3 1087.0 409.6 1095.8 411.8 1097.0C414.0 1098.2 416.6 1094.8 418.5 1089.7C420.3 1084.5 421.1 1073.7 422.9 1066.1C424.6 1058.5 427.0 1051.2 428.7 1044.1C430.5 1037.0 431.7 1030.9 433.1 1023.5C434.6 1016.2 436.7 1005.5 437.6 1000.0C438.4 994.5 437.5 996.2 438.4 990.6C439.3 985.0 441.4 975.5 442.8 966.3C444.3 957.2 446.0 945.0 447.2 935.5C448.5 925.9 449.1 918.2 450.6 909.0C452.0 899.8 454.2 890.6 456.1 880.4C457.9 870.1 459.7 858.3 461.6 847.3C463.4 836.3 465.2 825.2 467.1 814.2C468.9 803.2 470.8 792.2 472.6 781.1C474.4 770.1 476.3 759.1 478.1 748.1C479.9 737.0 481.2 728.9 483.6 715.0C486.0 701.1 489.9 680.3 492.4 664.6C495.0 648.8 497.0 635.2 499.1 620.5C501.1 605.8 502.7 591.1 504.6 576.4C506.4 561.7 508.2 547.0 510.1 532.3C511.9 517.6 513.8 502.9 515.6 488.2C517.4 473.5 519.4 458.8 521.1 444.1C522.8 429.4 524.1 413.0 525.5 400.0C527.0 387.0 528.4 376.6 529.8 366.2C531.1 355.9 532.3 347.3 533.5 337.9C534.8 328.4 536.1 318.3 537.3 309.5C538.6 300.7 539.7 292.8 541.1 285.0C542.5 277.1 544.4 269.5 545.8 262.3C547.2 255.0 548.3 248.1 549.6 241.5C550.9 234.9 552.1 228.9 553.4 222.6C554.6 216.3 555.7 209.7 557.2 203.7C558.6 197.7 560.3 191.9 561.9 186.7C563.5 181.5 564.9 175.8 566.6 172.5C568.3 169.2 570.4 167.5 572.3 166.9C574.2 166.2 576.4 167.3 578.0 168.7C579.5 170.2 580.3 172.8 581.7 175.4C583.1 177.9 584.9 181.2 586.5 183.9C588.0 186.5 589.6 189.5 591.2 191.4C592.8 193.3 594.5 193.6 595.9 195.2C597.3 196.8 598.7 198.8 599.7 200.9C600.6 202.9 600.5 205.1 601.6 207.5C602.7 209.8 604.9 212.2 606.3 215.0C607.7 217.9 608.8 221.8 610.1 224.5C611.3 227.2 612.0 229.2 613.9 231.1C615.7 233.0 619.2 235.7 621.4 235.8C623.6 236.0 625.7 233.3 627.1 232.0C628.5 230.8 628.8 229.1 629.9 228.3C631.0 227.5 632.4 227.0 633.7 227.3C635.0 227.6 636.4 228.7 637.5 230.2C638.6 231.6 639.4 232.4 640.3 235.8C641.3 239.3 642.2 245.9 643.1 250.9C644.1 256.0 645.2 261.0 646.0 266.1C646.8 271.1 647.1 274.9 647.9 281.2C648.7 287.5 649.8 296.0 650.7 303.9C651.7 311.7 652.6 320.6 653.5 328.4C654.5 336.3 655.6 343.9 656.4 351.1C657.2 358.3 657.5 363.7 658.3 371.9C659.1 380.0 660.1 388.0 661.1 400.0C662.1 412.1 663.1 429.4 664.4 444.1C665.7 458.8 667.3 473.5 668.8 488.2C670.3 502.9 671.8 517.6 673.2 532.3C674.7 547.0 676.2 561.7 677.6 576.4C679.1 591.1 680.6 605.8 682.0 620.5C683.5 635.2 684.8 648.8 686.5 664.6C688.1 680.3 690.1 701.1 692.0 715.1C693.8 729.0 695.8 736.3 697.5 748.1C699.1 759.8 700.4 773.4 701.9 785.6C703.4 797.7 704.8 809.8 706.3 820.8C707.8 831.9 709.2 841.4 710.7 851.7C712.2 862.0 713.6 871.0 715.1 882.6C716.6 894.1 718.6 911.1 719.9 921.0C721.2 930.9 722.0 935.3 723.0 942.0C724.1 948.6 725.1 955.3 726.2 960.9C727.2 966.5 728.3 972.3 729.3 975.6C730.4 978.9 731.6 979.8 732.5 980.8C733.4 981.9 733.8 982.1 734.6 981.9C735.4 981.7 736.3 981.4 737.2 979.8C738.1 978.2 739.1 975.6 739.8 972.4C740.6 969.3 741.2 964.0 741.9 960.9C742.6 957.7 743.2 955.1 744.0 953.5C744.9 952.0 746.0 951.4 747.2 951.4C748.4 951.4 750.1 952.3 751.4 953.5C752.7 954.8 754.0 956.3 755.1 958.8C756.1 961.2 756.9 964.7 757.7 968.2C758.5 971.7 759.1 975.4 759.8 979.8C760.5 984.2 761.2 989.4 761.9 994.5C762.6 999.6 763.6 1006.9 764.0 1010.2C764.3 1013.6 763.4 1009.5 764.0 1014.7C764.6 1019.9 766.2 1032.6 767.5 1041.2C768.8 1049.7 770.5 1058.8 771.9 1066.1C773.4 1073.5 774.9 1079.4 776.4 1085.2C777.8 1091.1 779.0 1096.3 780.8 1101.4C782.5 1106.6 785.2 1111.5 786.6 1116.1C788.1 1120.8 788.6 1124.7 789.6 1129.3C790.6 1134.0 791.5 1139.1 792.5 1144.0C793.5 1148.9 794.2 1154.6 795.5 1158.7C796.7 1162.9 798.2 1166.1 799.9 1169.0C801.6 1172.0 803.5 1173.7 805.7 1176.4C808.0 1179.1 810.6 1182.3 813.1 1185.2C815.5 1188.1 818.2 1191.8 820.4 1194.0C822.7 1196.3 822.3 1197.9 826.3 1198.7C830.4 1199.6 834.3 1198.8 844.7 1199.0C855.1 1199.2 876.5 1199.9 888.8 1199.9C901.0 1199.9 911.1 1199.7 918.2 1199.0C925.3 1198.3 927.5 1197.1 931.4 1195.5C935.3 1193.9 938.5 1191.6 941.7 1189.6C944.9 1187.6 947.6 1185.3 950.5 1183.7C953.5 1182.1 955.9 1180.8 959.3 1180.1C962.8 1179.3 967.9 1179.2 971.1 1179.3C974.3 1179.4 976.0 1180.7 978.5 1180.8C980.9 1180.9 983.6 1181.3 985.8 1180.1C988.0 1178.8 990.0 1175.4 991.7 1173.4C993.4 1171.5 994.6 1169.4 996.1 1168.3C997.6 1167.2 999.0 1166.8 1000.5 1166.8C1002.0 1166.8 1002.9 1168.5 1004.9 1168.3C1006.9 1168.0 1010.1 1166.0 1012.3 1165.4C1014.5 1164.7 1016.4 1165.0 1018.1 1164.6C1019.9 1164.3 1020.8 1163.1 1022.5 1163.1C1024.3 1163.1 1026.2 1163.4 1028.4 1164.6C1030.6 1165.8 1033.6 1168.8 1035.8 1170.5C1038.0 1172.2 1039.7 1173.7 1041.7 1174.9C1043.6 1176.1 1044.6 1176.6 1047.5 1177.8C1050.5 1179.1 1055.4 1180.8 1059.3 1182.3C1063.2 1183.7 1067.6 1185.7 1071.0 1186.7C1074.5 1187.6 1076.4 1187.4 1079.9 1188.1C1083.3 1188.9 1088.2 1192.3 1091.6 1191.1C1095.1 1189.9 1098.0 1183.2 1100.4 1180.8C1102.9 1178.3 1104.7 1177.4 1106.3 1176.4C1107.9 1175.4 1106.9 1174.2 1110.0 1174.9C1113.1 1175.6 1121.0 1178.8 1124.7 1180.8C1128.4 1182.7 1129.6 1184.2 1132.0 1186.7C1134.5 1189.1 1137.2 1192.9 1139.4 1195.5C1141.6 1198.1 1142.8 1200.9 1145.3 1202.1C1147.7 1203.3 1148.2 1202.9 1154.1 1202.8C1160.0 1202.8 1174.4 1202.1 1180.6 1201.7C1186.7 1201.2 1187.9 1200.4 1190.8 1199.9C1193.8 1199.4 1195.0 1198.8 1198.2 1198.4C1201.4 1198.1 1206.0 1198.4 1209.9 1197.7C1213.9 1197.0 1217.3 1195.1 1221.7 1194.0C1226.1 1192.9 1232.5 1191.6 1236.4 1191.1C1240.3 1190.6 1242.8 1192.1 1245.2 1191.1C1247.7 1190.1 1249.1 1186.5 1251.1 1185.2C1253.1 1183.8 1255.0 1184.0 1257.0 1183.0C1258.9 1182.0 1261.1 1180.7 1262.9 1179.3C1264.6 1178.0 1265.8 1176.9 1267.3 1174.9C1268.7 1172.9 1270.2 1170.0 1271.7 1167.6C1273.1 1165.1 1274.4 1162.9 1276.1 1160.2C1277.8 1157.5 1280.3 1155.6 1282.0 1151.4C1283.7 1147.2 1285.2 1141.3 1286.4 1135.2C1287.6 1129.1 1288.3 1122.5 1289.3 1114.6C1290.3 1106.8 1291.4 1097.5 1292.3 1088.2C1293.1 1078.9 1293.7 1068.6 1294.5 1058.8C1295.2 1049.0 1295.9 1039.2 1296.7 1029.4C1297.4 1019.6 1298.1 1015.9 1298.9 1000.0C1299.7 984.1 1300.6 956.8 1301.5 934.3C1302.4 911.7 1303.4 890.2 1304.3 864.6C1305.2 839.1 1306.2 806.6 1307.1 781.1C1308.0 755.5 1309.0 730.9 1309.9 711.4C1310.8 691.9 1311.7 676.8 1312.7 664.1C1313.6 651.3 1314.6 640.9 1315.5 634.8C1316.3 628.8 1316.9 626.7 1317.7 627.9C1318.5 629.0 1319.4 632.5 1320.2 641.8C1321.0 651.1 1321.6 670.6 1322.4 683.6C1323.3 696.6 1324.3 710.0 1325.2 719.8C1326.1 729.5 1327.1 737.2 1328.0 742.1C1328.9 746.9 1329.9 749.3 1330.8 749.0C1331.7 748.8 1332.6 742.5 1333.6 740.7C1334.5 738.8 1335.3 736.3 1336.4 737.9C1337.4 739.5 1338.5 743.2 1339.7 750.4C1340.9 757.6 1342.2 770.4 1343.3 781.1C1344.4 791.7 1345.3 807.6 1346.1 814.5C1346.9 821.4 1347.3 822.3 1348.1 822.3C1348.8 822.3 1349.9 823.7 1350.8 814.5C1351.8 805.3 1352.7 784.3 1353.6 767.1C1354.5 750.0 1355.5 728.4 1356.4 711.4C1357.3 694.5 1358.3 675.7 1359.2 665.5C1360.1 655.2 1361.0 650.6 1362.0 650.1C1362.9 649.7 1363.9 652.5 1364.8 662.7C1365.6 672.9 1366.2 694.0 1367.0 711.4C1367.7 728.8 1368.4 746.2 1369.2 767.1C1370.1 788.0 1371.0 815.9 1372.0 836.8C1373.0 857.7 1374.5 880.5 1375.3 892.5C1376.2 904.5 1376.3 897.9 1377.2 908.7C1378.2 919.6 1379.7 941.2 1380.9 957.5C1382.1 973.7 1383.3 990.0 1384.6 1006.2C1385.8 1022.5 1387.2 1043.6 1388.2 1055.0C1389.2 1066.4 1389.7 1070.0 1390.6 1074.5C1391.6 1079.0 1392.8 1084.4 1394.0 1082.0C1395.2 1079.6 1396.8 1070.3 1398.0 1060.0C1399.2 1049.7 1400.6 1034.2 1401.5 1020.0C1402.4 1005.8 1402.7 986.7 1403.5 975.0C1404.3 963.3 1405.6 953.3 1406.5 950.0C1407.4 946.7 1408.2 949.2 1409.0 955.0C1409.8 960.8 1410.3 975.0 1411.0 985.0C1411.7 995.0 1412.2 1007.5 1413.0 1015.0C1413.8 1022.5 1414.7 1031.7 1415.5 1030.0C1416.3 1028.3 1417.1 1016.7 1418.0 1005.0C1418.9 993.3 1420.1 975.0 1421.0 960.0C1421.9 945.0 1422.8 925.0 1423.5 915.0C1424.2 905.0 1424.8 901.0 1425.5 900.0C1426.2 899.0 1426.8 904.0 1427.5 909.0C1428.2 914.0 1429.1 922.3 1430.0 930.0C1430.9 937.7 1431.9 945.8 1433.0 955.0C1434.1 964.2 1435.4 975.0 1436.5 985.0C1437.6 995.0 1438.7 1005.5 1439.5 1015.0C1440.3 1024.5 1441.0 1034.5 1441.5 1042.0C1442.0 1049.5 1442.1 1059.3 1442.8 1060.0C1443.5 1060.7 1444.6 1050.9 1445.6 1046.0C1446.6 1041.0 1447.5 1034.6 1448.7 1030.2C1450.0 1025.9 1451.7 1023.1 1452.9 1019.7C1454.2 1016.4 1455.0 1012.7 1456.1 1010.3C1457.1 1007.9 1458.1 1006.5 1459.2 1005.6C1460.4 1004.7 1461.8 1004.6 1462.9 1004.8C1464.1 1005.1 1465.1 1005.5 1466.1 1007.1C1467.0 1008.7 1467.9 1011.5 1468.7 1014.5C1469.5 1017.5 1470.1 1020.6 1470.8 1025.0C1471.5 1029.4 1472.2 1035.5 1472.9 1040.7C1473.6 1046.0 1474.5 1052.2 1475.0 1056.5C1475.5 1060.8 1474.8 1061.3 1475.8 1066.7C1476.9 1072.1 1479.6 1081.6 1481.4 1089.0C1483.3 1096.4 1485.1 1104.4 1487.0 1111.3C1488.8 1118.2 1490.7 1125.2 1492.6 1130.2C1494.4 1135.2 1495.9 1138.4 1498.1 1141.4C1500.4 1144.3 1503.3 1146.3 1505.9 1148.1C1508.5 1149.8 1510.8 1151.2 1513.7 1151.9C1516.7 1152.7 1521.3 1151.7 1523.8 1152.5C1526.2 1153.3 1526.9 1154.5 1528.2 1157.0C1529.5 1159.4 1530.3 1162.9 1531.6 1167.0C1532.9 1171.1 1534.5 1178.4 1536.0 1181.5C1537.5 1184.5 1539.0 1185.9 1540.5 1185.4C1542.0 1184.8 1543.3 1181.0 1544.9 1178.1C1546.6 1175.3 1548.8 1170.1 1550.5 1168.1C1552.2 1166.1 1553.5 1165.5 1555.0 1165.9C1556.4 1166.2 1557.7 1168.3 1559.4 1170.3C1561.1 1172.4 1563.2 1175.9 1565.0 1178.1C1566.8 1180.4 1567.3 1182.2 1570.0 1183.7C1572.7 1185.2 1578.0 1186.7 1581.1 1187.4C1584.1 1188.1 1586.0 1187.5 1588.4 1188.1C1590.9 1188.7 1593.3 1189.9 1595.8 1191.1C1598.2 1192.3 1600.7 1194.5 1603.1 1195.5C1605.6 1196.5 1606.8 1196.6 1610.5 1197.0C1614.1 1197.3 1620.3 1197.9 1625.2 1197.7C1630.1 1197.4 1636.2 1196.8 1639.9 1195.5C1643.5 1194.1 1644.8 1192.3 1647.2 1189.6C1649.7 1186.9 1652.1 1184.0 1654.6 1179.3C1657.0 1174.7 1659.3 1167.7 1661.9 1161.7C1664.5 1155.7 1667.1 1149.3 1670.1 1143.3C1673.2 1137.3 1676.8 1132.5 1680.2 1125.8C1683.5 1119.1 1686.9 1110.3 1690.2 1103.2C1693.5 1096.1 1696.9 1089.0 1700.2 1083.1C1703.6 1077.3 1706.9 1073.1 1710.3 1068.1C1713.6 1063.1 1716.5 1058.5 1720.3 1053.1C1724.0 1047.6 1728.6 1041.8 1732.8 1035.5C1737.0 1029.2 1741.6 1021.1 1745.3 1015.5C1749.1 1009.8 1753.0 1004.5 1755.4 1001.7C1757.7 998.8 1758.7 999.0 1759.4 998.4"/>
<path stroke="#008080" transform="translate(0 -0.5)" d="M283.2 1201.4C284.7 1199.7 288.6 1193.3 292.0 1191.4C295.5 1189.5 300.6 1190.6 303.8 1189.9C307.0 1189.2 309.2 1186.8 311.2 1187.0C313.1 1187.1 313.1 1190.1 315.6 1190.8C318.0 1191.5 323.2 1192.3 325.9 1191.1C328.5 1189.9 329.5 1185.4 331.7 1183.7C333.9 1182.0 337.1 1179.3 339.1 1180.8C341.0 1182.3 341.0 1190.3 343.5 1192.5C345.9 1194.8 350.8 1194.5 353.8 1194.0C356.7 1193.5 358.9 1191.3 361.1 1189.6C363.3 1187.9 365.0 1184.5 367.0 1183.7C369.0 1183.0 371.2 1186.2 372.9 1185.2C374.6 1184.2 375.3 1179.6 377.3 1177.8C379.3 1176.1 382.4 1177.4 384.6 1174.9C386.9 1172.5 388.3 1165.6 390.5 1163.1C392.7 1160.7 394.9 1161.2 397.9 1160.2C400.8 1159.2 405.5 1159.7 408.2 1157.3C410.9 1154.8 411.3 1148.6 414.0 1145.5C416.7 1142.4 421.4 1140.0 424.3 1138.9C427.3 1137.8 429.5 1136.8 431.7 1138.9C433.9 1141.0 435.6 1147.3 437.6 1151.4C439.5 1155.4 441.2 1158.3 443.4 1163.1C445.6 1168.0 448.1 1176.1 450.8 1180.8C453.5 1185.4 457.2 1188.3 459.6 1191.1C462.1 1193.9 463.3 1197.9 465.5 1197.7C467.7 1197.4 470.6 1192.9 472.8 1189.6C475.0 1186.3 476.3 1182.0 478.7 1177.8C481.2 1173.7 484.3 1169.0 487.5 1164.6C490.7 1160.2 494.4 1155.6 497.8 1151.4C501.3 1147.2 505.4 1142.6 508.1 1139.6C510.8 1136.7 510.8 1135.7 514.0 1133.8C517.2 1131.8 523.1 1129.2 527.2 1127.9C531.4 1126.5 535.2 1126.2 539.0 1125.7C542.8 1125.2 546.2 1126.0 550.0 1124.9C553.8 1123.8 557.8 1122.5 561.8 1119.1C565.7 1115.6 570.1 1108.0 573.5 1104.4C576.9 1100.7 579.8 1098.7 582.3 1097.0C584.9 1095.3 586.3 1093.6 589.0 1094.1C591.6 1094.6 595.2 1098.0 598.5 1099.9C601.8 1101.9 605.4 1103.1 608.8 1105.8C612.2 1108.5 616.1 1112.7 619.1 1116.1C622.0 1119.5 623.2 1122.5 626.4 1126.4C629.6 1130.3 634.3 1135.2 638.2 1139.6C642.1 1144.0 646.0 1148.5 649.9 1152.9C653.9 1157.3 658.5 1162.8 661.7 1166.1C664.9 1169.4 667.1 1171.4 669.1 1172.7C671.0 1174.1 672.0 1174.3 673.5 1174.2C674.9 1174.1 675.9 1175.0 677.9 1172.0C679.8 1168.9 683.0 1160.2 685.2 1155.8C687.4 1151.4 689.6 1147.3 691.1 1145.5C692.6 1143.7 693.1 1144.3 694.0 1144.8C695.0 1145.3 695.8 1145.9 697.0 1148.5C698.2 1151.0 699.7 1157.3 701.4 1160.2C703.1 1163.1 705.6 1163.6 707.3 1166.1C709.0 1168.5 710.2 1172.5 711.7 1174.9C713.1 1177.4 713.6 1179.3 716.1 1180.8C718.5 1182.3 723.7 1181.8 726.4 1183.7C729.1 1185.7 730.5 1190.7 732.3 1192.5C734.0 1194.4 734.0 1194.3 736.7 1194.8C739.4 1195.2 744.8 1195.6 748.4 1195.5C752.1 1195.4 755.0 1194.0 758.7 1194.0C762.4 1194.0 766.1 1194.8 770.5 1195.5C774.9 1196.1 780.3 1197.4 785.2 1198.0C790.1 1198.5 793.7 1198.6 799.9 1198.7C806.0 1198.8 816.9 1198.4 821.9 1198.4C826.9 1198.4 822.5 1198.5 830.0 1198.7C837.5 1199.0 858.7 1200.2 866.7 1199.9C874.8 1199.6 874.8 1197.9 878.5 1197.0C882.2 1196.0 884.6 1195.1 888.8 1194.0C893.0 1192.9 899.6 1191.4 903.5 1190.3C907.4 1189.2 909.4 1188.3 912.3 1187.4C915.2 1186.5 917.9 1186.1 921.1 1185.2C924.3 1184.3 929.0 1184.2 931.4 1182.3C933.9 1180.3 934.5 1177.1 935.8 1173.4C937.2 1169.8 938.4 1163.6 939.5 1160.2C940.6 1156.8 941.5 1154.6 942.4 1152.9C943.4 1151.1 944.2 1149.9 945.4 1149.9C946.6 1149.9 948.3 1151.6 949.8 1152.9C951.3 1154.1 952.6 1157.3 954.2 1157.3C955.8 1157.3 957.8 1153.6 959.3 1152.9C960.9 1152.1 962.3 1151.6 963.8 1152.9C965.2 1154.1 966.6 1157.5 968.2 1160.2C969.8 1162.9 971.6 1166.7 973.3 1169.0C975.0 1171.4 976.6 1172.6 978.5 1174.2C980.3 1175.8 982.1 1177.8 984.3 1178.6C986.5 1179.3 989.2 1178.2 991.7 1178.6C994.1 1179.0 996.6 1180.1 999.0 1180.8C1001.5 1181.5 1003.9 1183.0 1006.4 1183.0C1008.8 1183.0 1011.5 1180.7 1013.7 1180.8C1015.9 1180.9 1017.9 1182.3 1019.6 1183.7C1021.3 1185.2 1022.5 1187.9 1024.0 1189.6C1025.5 1191.3 1027.0 1193.0 1028.4 1194.0C1029.9 1195.0 1031.1 1197.2 1032.8 1195.5C1034.5 1193.8 1036.8 1186.9 1038.7 1183.7C1040.7 1180.5 1042.1 1178.0 1044.6 1176.4C1047.0 1174.8 1050.0 1174.5 1053.4 1174.2C1056.8 1173.8 1062.2 1174.1 1065.2 1174.2C1068.1 1174.3 1069.1 1174.2 1071.0 1174.9C1073.0 1175.6 1074.5 1177.6 1076.9 1178.6C1079.4 1179.6 1083.1 1179.7 1085.7 1180.8C1088.4 1181.9 1090.4 1185.0 1093.1 1185.2C1095.8 1185.4 1099.1 1183.0 1101.9 1182.3C1104.7 1181.5 1107.2 1180.8 1110.0 1180.8C1112.8 1180.8 1116.4 1181.3 1118.8 1182.3C1121.3 1183.2 1122.7 1184.7 1124.7 1186.7C1126.7 1188.6 1128.6 1191.4 1130.6 1194.0C1132.5 1196.6 1133.8 1200.6 1136.5 1202.1C1139.2 1203.6 1143.1 1203.0 1146.7 1203.1C1150.4 1203.3 1155.3 1203.3 1158.5 1202.8C1161.7 1202.4 1163.6 1202.3 1165.9 1200.6C1168.1 1198.9 1169.8 1195.1 1171.7 1192.5C1173.7 1190.0 1175.9 1187.9 1177.6 1185.2C1179.3 1182.5 1180.3 1178.2 1182.0 1176.4C1183.7 1174.5 1185.8 1175.9 1187.9 1174.2C1190.0 1172.5 1192.3 1166.9 1194.5 1166.1C1196.7 1165.2 1198.8 1169.0 1201.1 1169.0C1203.5 1169.0 1206.8 1166.3 1208.5 1166.1C1210.2 1165.8 1210.2 1168.5 1211.4 1167.6C1212.6 1166.6 1214.0 1161.2 1215.8 1160.2C1217.7 1159.2 1220.7 1162.2 1222.4 1161.7C1224.2 1161.2 1224.5 1158.5 1226.1 1157.3C1227.7 1156.0 1229.8 1155.1 1232.0 1154.3C1234.2 1153.6 1237.4 1153.8 1239.3 1152.9C1241.3 1151.9 1242.5 1150.7 1243.8 1148.5C1245.0 1146.2 1245.1 1141.6 1246.7 1139.6C1248.3 1137.7 1251.6 1138.7 1253.3 1136.7C1255.0 1134.7 1255.6 1130.6 1257.0 1127.9C1258.3 1125.2 1260.0 1122.7 1261.4 1120.5C1262.7 1118.3 1264.2 1118.1 1265.1 1114.6C1265.9 1111.2 1265.8 1105.3 1266.5 1099.9C1267.3 1094.6 1268.4 1087.2 1269.5 1082.3C1270.6 1077.4 1271.8 1073.7 1273.1 1070.6C1274.5 1067.4 1276.3 1067.6 1277.6 1063.2C1278.8 1058.8 1279.5 1051.0 1280.5 1044.1C1281.5 1037.2 1282.6 1029.4 1283.4 1022.0C1284.3 1014.7 1285.0 1010.8 1285.6 1000.0C1286.2 989.2 1286.4 972.8 1287.0 957.5C1287.6 942.2 1288.8 924.2 1289.5 908.0C1290.2 891.8 1290.9 878.8 1291.5 860.0C1292.1 841.2 1292.4 823.3 1293.2 795.0C1294.0 766.7 1295.7 718.0 1296.6 690.0C1297.5 662.0 1298.0 647.3 1298.5 627.0C1299.0 606.7 1299.3 586.4 1299.6 568.0C1299.9 549.6 1300.3 529.7 1300.5 516.7C1300.7 503.7 1300.5 504.3 1300.8 490.0C1301.2 475.7 1302.0 449.1 1302.6 430.8C1303.2 412.6 1304.0 397.4 1304.6 380.7C1305.2 364.0 1305.8 347.3 1306.4 330.6C1306.9 313.8 1307.5 294.8 1308.1 280.4C1308.7 266.0 1309.5 251.2 1310.1 244.1C1310.7 237.0 1311.2 235.9 1311.9 237.8C1312.5 239.7 1313.1 244.1 1313.9 255.3C1314.6 266.6 1315.5 288.8 1316.4 305.5C1317.2 322.2 1318.1 341.0 1318.9 355.6C1319.7 370.3 1320.6 385.1 1321.4 393.2C1322.1 401.4 1322.6 404.5 1323.4 404.5C1324.2 404.5 1325.5 397.8 1326.4 393.2C1327.3 388.6 1328.1 380.3 1328.9 376.9C1329.7 373.6 1330.5 372.5 1331.4 373.2C1332.4 373.8 1333.7 375.3 1334.7 380.7C1335.6 386.1 1336.4 398.9 1337.2 405.8C1338.0 412.7 1338.9 418.7 1339.7 422.1C1340.5 425.4 1341.4 428.5 1342.2 425.8C1343.0 423.1 1343.9 419.6 1344.7 405.8C1345.5 392.0 1346.4 364.0 1347.2 343.1C1348.1 322.2 1348.9 301.3 1349.7 280.4C1350.6 259.5 1351.4 236.5 1352.2 217.7C1353.1 198.9 1353.9 178.6 1354.7 167.6C1355.5 156.7 1356.2 150.0 1357.0 152.1C1357.8 154.2 1358.7 167.1 1359.5 180.1C1360.3 193.2 1360.9 211.5 1361.5 230.3C1362.1 249.1 1362.7 272.1 1363.3 293.0C1363.8 313.8 1364.3 334.7 1364.8 355.6C1365.2 376.5 1365.5 395.9 1366.0 418.3C1366.5 440.7 1367.4 473.6 1367.8 490.0C1368.2 506.4 1368.1 503.7 1368.4 516.7C1368.7 529.7 1369.3 549.6 1369.8 568.0C1370.3 586.4 1370.8 606.7 1371.3 627.0C1371.8 647.3 1372.4 666.7 1373.0 690.0C1373.6 713.3 1374.4 738.7 1375.0 767.0C1375.6 795.3 1376.1 834.5 1376.5 860.0C1376.9 885.5 1376.9 901.2 1377.5 920.0C1378.1 938.8 1379.5 955.0 1380.3 972.5C1381.1 990.0 1381.9 1010.4 1382.5 1025.0C1383.1 1039.6 1383.5 1046.7 1384.0 1060.0C1384.5 1073.3 1385.0 1088.7 1385.6 1105.0C1386.2 1121.3 1387.1 1144.8 1387.8 1158.0C1388.5 1171.2 1389.3 1178.3 1390.0 1184.0C1390.7 1189.7 1391.1 1196.0 1391.7 1192.0C1392.3 1188.0 1393.0 1173.7 1393.5 1160.0C1394.0 1146.3 1394.5 1126.7 1395.0 1110.0C1395.5 1093.3 1396.1 1076.7 1396.5 1060.0C1396.9 1043.3 1397.2 1024.2 1397.5 1010.0C1397.8 995.8 1398.1 984.7 1398.5 975.0C1398.9 965.3 1399.5 956.8 1400.0 952.0C1400.5 947.2 1401.0 946.1 1401.5 946.0C1402.0 945.9 1402.3 945.3 1403.2 951.5C1404.1 957.7 1405.8 972.5 1406.7 983.0C1407.6 993.5 1408.2 1006.0 1408.8 1014.5C1409.4 1023.0 1409.9 1029.5 1410.4 1034.0C1410.9 1038.5 1411.4 1041.7 1412.0 1041.5C1412.6 1041.3 1413.4 1041.0 1414.1 1033.0C1414.8 1025.0 1415.5 1007.1 1416.2 993.5C1416.9 979.9 1417.6 965.4 1418.3 951.5C1419.0 937.6 1419.8 923.1 1420.4 910.0C1421.0 896.9 1421.5 880.7 1422.0 873.0C1422.5 865.3 1423.0 864.0 1423.5 864.0C1424.0 864.0 1424.5 868.7 1425.0 873.0C1425.5 877.3 1426.0 882.2 1426.5 890.0C1427.0 897.8 1427.5 909.8 1428.0 920.0C1428.5 930.2 1428.8 941.0 1429.3 951.5C1429.8 962.0 1430.2 972.5 1430.7 983.0C1431.2 993.5 1431.6 1004.0 1432.0 1014.5C1432.4 1025.0 1432.7 1034.6 1433.0 1046.0C1433.3 1057.4 1433.5 1071.2 1433.8 1083.0C1434.1 1094.8 1434.3 1105.8 1434.6 1117.0C1434.9 1128.2 1435.3 1139.8 1435.8 1150.0C1436.2 1160.2 1436.8 1171.3 1437.3 1178.0C1437.8 1184.7 1438.3 1190.0 1439.0 1190.0C1439.7 1190.0 1440.5 1184.7 1441.3 1178.0C1442.0 1171.3 1442.6 1158.3 1443.5 1150.0C1444.4 1141.7 1445.8 1135.4 1446.9 1128.0C1448.0 1120.6 1449.2 1113.1 1450.2 1105.7C1451.2 1098.3 1452.2 1091.4 1453.0 1083.4C1453.8 1075.5 1454.6 1065.9 1455.3 1058.0C1456.0 1050.1 1456.5 1041.2 1457.0 1036.0C1457.5 1030.8 1458.0 1028.7 1458.5 1027.0C1459.0 1025.3 1459.3 1025.4 1459.8 1025.6C1460.3 1025.8 1460.9 1026.1 1461.5 1028.0C1462.1 1029.9 1462.7 1032.2 1463.4 1037.0C1464.2 1041.8 1465.2 1048.8 1466.0 1056.5C1466.8 1064.2 1467.3 1072.9 1468.2 1083.0C1469.1 1093.1 1470.1 1106.6 1471.4 1116.9C1472.7 1127.2 1474.1 1136.4 1475.8 1144.7C1477.5 1153.0 1479.5 1161.2 1481.4 1167.0C1483.3 1172.8 1485.4 1176.8 1487.0 1179.2C1488.6 1181.6 1489.4 1181.3 1490.9 1181.1C1492.4 1181.0 1494.1 1179.6 1495.9 1178.1C1497.7 1176.7 1499.8 1175.3 1501.5 1172.6C1503.1 1169.8 1504.4 1167.0 1505.9 1161.4C1507.4 1155.8 1508.9 1146.2 1510.4 1139.1C1511.9 1132.1 1513.4 1124.7 1514.8 1119.1C1516.3 1113.5 1517.9 1108.4 1519.3 1105.7C1520.7 1103.0 1522.1 1102.0 1523.2 1102.9C1524.3 1103.9 1525.1 1106.2 1526.0 1111.3C1526.9 1116.4 1527.9 1127.1 1528.8 1133.6C1529.6 1140.1 1530.2 1145.5 1531.0 1150.3C1531.8 1155.1 1533.0 1159.9 1533.8 1162.5C1534.5 1165.2 1534.9 1166.5 1535.5 1166.0C1536.0 1165.4 1536.5 1165.5 1537.1 1159.2C1537.8 1152.9 1538.4 1138.8 1539.4 1128.0C1540.3 1117.2 1541.6 1102.7 1542.7 1094.6C1543.8 1086.4 1544.8 1082.1 1546.0 1079.0C1547.3 1075.8 1548.6 1075.1 1549.9 1075.8C1551.2 1076.6 1552.5 1078.4 1553.8 1083.4C1555.2 1088.4 1556.8 1098.7 1558.3 1105.7C1559.8 1112.8 1561.3 1120.4 1562.8 1125.8C1564.2 1131.2 1565.8 1135.6 1567.2 1138.0C1568.7 1140.5 1569.9 1140.8 1571.5 1140.4C1573.1 1139.9 1575.1 1137.6 1576.7 1135.2C1578.3 1132.9 1579.6 1128.1 1581.1 1126.4C1582.5 1124.7 1583.8 1124.4 1585.5 1124.9C1587.2 1125.4 1589.7 1126.6 1591.4 1129.3C1593.1 1132.0 1594.3 1136.4 1595.8 1141.1C1597.2 1145.8 1598.5 1152.4 1600.2 1157.3C1601.9 1162.2 1604.1 1166.3 1606.1 1170.5C1608.0 1174.7 1610.0 1179.2 1611.9 1182.3C1613.9 1185.3 1615.6 1188.6 1617.8 1188.9C1620.0 1189.1 1622.7 1185.8 1625.2 1183.7C1627.6 1181.6 1630.1 1179.1 1632.5 1176.4C1635.0 1173.7 1637.4 1171.2 1639.9 1167.6C1642.3 1163.9 1645.0 1160.2 1647.2 1154.3C1649.4 1148.5 1651.1 1142.1 1653.1 1132.3C1655.1 1122.5 1657.0 1108.3 1659.0 1095.5C1660.9 1082.8 1663.0 1065.4 1664.9 1055.9C1666.7 1046.3 1668.4 1046.4 1670.1 1038.0C1671.9 1029.6 1673.7 1014.6 1675.2 1005.4C1676.6 996.2 1677.7 992.1 1678.9 982.9C1680.2 973.7 1681.4 959.1 1682.7 950.3C1683.9 941.5 1685.3 935.7 1686.4 930.2C1687.6 924.8 1688.2 920.8 1689.7 917.7C1691.2 914.6 1693.7 913.7 1695.2 911.4C1696.8 909.1 1698.1 906.7 1699.0 903.9C1699.8 901.1 1700.0 896.2 1700.2 894.6"/>
<path stroke="#008080" transform="translate(0 0.5)" d="M283.2 1201.4C284.7 1199.7 288.6 1193.3 292.0 1191.4C295.5 1189.5 300.6 1190.6 303.8 1189.9C307.0 1189.2 309.2 1186.8 311.2 1187.0C313.1 1187.1 313.1 1190.1 315.6 1190.8C318.0 1191.5 323.2 1192.3 325.9 1191.1C328.5 1189.9 329.5 1185.4 331.7 1183.7C333.9 1182.0 337.1 1179.3 339.1 1180.8C341.0 1182.3 341.0 1190.3 343.5 1192.5C345.9 1194.8 350.8 1194.5 353.8 1194.0C356.7 1193.5 358.9 1191.3 361.1 1189.6C363.3 1187.9 365.0 1184.5 367.0 1183.7C369.0 1183.0 371.2 1186.2 372.9 1185.2C374.6 1184.2 375.3 1179.6 377.3 1177.8C379.3 1176.1 382.4 1177.4 384.6 1174.9C386.9 1172.5 388.3 1165.6 390.5 1163.1C392.7 1160.7 394.9 1161.2 397.9 1160.2C400.8 1159.2 405.5 1159.7 408.2 1157.3C410.9 1154.8 411.3 1148.6 414.0 1145.5C416.7 1142.4 421.4 1140.0 424.3 1138.9C427.3 1137.8 429.5 1136.8 431.7 1138.9C433.9 1141.0 435.6 1147.3 437.6 1151.4C439.5 1155.4 441.2 1158.3 443.4 1163.1C445.6 1168.0 448.1 1176.1 450.8 1180.8C453.5 1185.4 457.2 1188.3 459.6 1191.1C462.1 1193.9 463.3 1197.9 465.5 1197.7C467.7 1197.4 470.6 1192.9 472.8 1189.6C475.0 1186.3 476.3 1182.0 478.7 1177.8C481.2 1173.7 484.3 1169.0 487.5 1164.6C490.7 1160.2 494.4 1155.6 497.8 1151.4C501.3 1147.2 505.4 1142.6 508.1 1139.6C510.8 1136.7 510.8 1135.7 514.0 1133.8C517.2 1131.8 523.1 1129.2 527.2 1127.9C531.4 1126.5 535.2 1126.2 539.0 1125.7C542.8 1125.2 546.2 1126.0 550.0 1124.9C553.8 1123.8 557.8 1122.5 561.8 1119.1C565.7 1115.6 570.1 1108.0 573.5 1104.4C576.9 1100.7 579.8 1098.7 582.3 1097.0C584.9 1095.3 586.3 1093.6 589.0 1094.1C591.6 1094.6 595.2 1098.0 598.5 1099.9C601.8 1101.9 605.4 1103.1 608.8 1105.8C612.2 1108.5 616.1 1112.7 619.1 1116.1C622.0 1119.5 623.2 1122.5 626.4 1126.4C629.6 1130.3 634.3 1135.2 638.2 1139.6C642.1 1144.0 646.0 1148.5 649.9 1152.9C653.9 1157.3 658.5 1162.8 661.7 1166.1C664.9 1169.4 667.1 1171.4 669.1 1172.7C671.0 1174.1 672.0 1174.3 673.5 1174.2C674.9 1174.1 675.9 1175.0 677.9 1172.0C679.8 1168.9 683.0 1160.2 685.2 1155.8C687.4 1151.4 689.6 1147.3 691.1 1145.5C692.6 1143.7 693.1 1144.3 694.0 1144.8C695.0 1145.3 695.8 1145.9 697.0 1148.5C698.2 1151.0 699.7 1157.3 701.4 1160.2C703.1 1163.1 705.6 1163.6 707.3 1166.1C709.0 1168.5 710.2 1172.5 711.7 1174.9C713.1 1177.4 713.6 1179.3 716.1 1180.8C718.5 1182.3 723.7 1181.8 726.4 1183.7C729.1 1185.7 730.5 1190.7 732.3 1192.5C734.0 1194.4 734.0 1194.3 736.7 1194.8C739.4 1195.2 744.8 1195.6 748.4 1195.5C752.1 1195.4 755.0 1194.0 758.7 1194.0C762.4 1194.0 766.1 1194.8 770.5 1195.5C774.9 1196.1 780.3 1197.4 785.2 1198.0C790.1 1198.5 793.7 1198.6 799.9 1198.7C806.0 1198.8 816.9 1198.4 821.9 1198.4C826.9 1198.4 822.5 1198.5 830.0 1198.7C837.5 1199.0 858.7 1200.2 866.7 1199.9C874.8 1199.6 874.8 1197.9 878.5 1197.0C882.2 1196.0 884.6 1195.1 888.8 1194.0C893.0 1192.9 899.6 1191.4 903.5 1190.3C907.4 1189.2 909.4 1188.3 912.3 1187.4C915.2 1186.5 917.9 1186.1 921.1 1185.2C924.3 1184.3 929.0 1184.2 931.4 1182.3C933.9 1180.3 934.5 1177.1 935.8 1173.4C937.2 1169.8 938.4 1163.6 939.5 1160.2C940.6 1156.8 941.5 1154.6 942.4 1152.9C943.4 1151.1 944.2 1149.9 945.4 1149.9C946.6 1149.9 948.3 1151.6 949.8 1152.9C951.3 1154.1 952.6 1157.3 954.2 1157.3C955.8 1157.3 957.8 1153.6 959.3 1152.9C960.9 1152.1 962.3 1151.6 963.8 1152.9C965.2 1154.1 966.6 1157.5 968.2 1160.2C969.8 1162.9 971.6 1166.7 973.3 1169.0C975.0 1171.4 976.6 1172.6 978.5 1174.2C980.3 1175.8 982.1 1177.8 984.3 1178.6C986.5 1179.3 989.2 1178.2 991.7 1178.6C994.1 1179.0 996.6 1180.1 999.0 1180.8C1001.5 1181.5 1003.9 1183.0 1006.4 1183.0C1008.8 1183.0 1011.5 1180.7 1013.7 1180.8C1015.9 1180.9 1017.9 1182.3 1019.6 1183.7C1021.3 1185.2 1022.5 1187.9 1024.0 1189.6C1025.5 1191.3 1027.0 1193.0 1028.4 1194.0C1029.9 1195.0 1031.1 1197.2 1032.8 1195.5C1034.5 1193.8 1036.8 1186.9 1038.7 1183.7C1040.7 1180.5 1042.1 1178.0 1044.6 1176.4C1047.0 1174.8 1050.0 1174.5 1053.4 1174.2C1056.8 1173.8 1062.2 1174.1 1065.2 1174.2C1068.1 1174.3 1069.1 1174.2 1071.0 1174.9C1073.0 1175.6 1074.5 1177.6 1076.9 1178.6C1079.4 1179.6 1083.1 1179.7 1085.7 1180.8C1088.4 1181.9 1090.4 1185.0 1093.1 1185.2C1095.8 1185.4 1099.1 1183.0 1101.9 1182.3C1104.7 1181.5 1107.2 1180.8 1110.0 1180.8C1112.8 1180.8 1116.4 1181.3 1118.8 1182.3C1121.3 1183.2 1122.7 1184.7 1124.7 1186.7C1126.7 1188.6 1128.6 1191.4 1130.6 1194.0C1132.5 1196.6 1133.8 1200.6 1136.5 1202.1C1139.2 1203.6 1143.1 1203.0 1146.7 1203.1C1150.4 1203.3 1155.3 1203.3 1158.5 1202.8C1161.7 1202.4 1163.6 1202.3 1165.9 1200.6C1168.1 1198.9 1169.8 1195.1 1171.7 1192.5C1173.7 1190.0 1175.9 1187.9 1177.6 1185.2C1179.3 1182.5 1180.3 1178.2 1182.0 1176.4C1183.7 1174.5 1185.8 1175.9 1187.9 1174.2C1190.0 1172.5 1192.3 1166.9 1194.5 1166.1C1196.7 1165.2 1198.8 1169.0 1201.1 1169.0C1203.5 1169.0 1206.8 1166.3 1208.5 1166.1C1210.2 1165.8 1210.2 1168.5 1211.4 1167.6C1212.6 1166.6 1214.0 1161.2 1215.8 1160.2C1217.7 1159.2 1220.7 1162.2 1222.4 1161.7C1224.2 1161.2 1224.5 1158.5 1226.1 1157.3C1227.7 1156.0 1229.8 1155.1 1232.0 1154.3C1234.2 1153.6 1237.4 1153.8 1239.3 1152.9C1241.3 1151.9 1242.5 1150.7 1243.8 1148.5C1245.0 1146.2 1245.1 1141.6 1246.7 1139.6C1248.3 1137.7 1251.6 1138.7 1253.3 1136.7C1255.0 1134.7 1255.6 1130.6 1257.0 1127.9C1258.3 1125.2 1260.0 1122.7 1261.4 1120.5C1262.7 1118.3 1264.2 1118.1 1265.1 1114.6C1265.9 1111.2 1265.8 1105.3 1266.5 1099.9C1267.3 1094.6 1268.4 1087.2 1269.5 1082.3C1270.6 1077.4 1271.8 1073.7 1273.1 1070.6C1274.5 1067.4 1276.3 1067.6 1277.6 1063.2C1278.8 1058.8 1279.5 1051.0 1280.5 1044.1C1281.5 1037.2 1282.6 1029.4 1283.4 1022.0C1284.3 1014.7 1285.0 1010.8 1285.6 1000.0C1286.2 989.2 1286.4 972.8 1287.0 957.5C1287.6 942.2 1288.8 924.2 1289.5 908.0C1290.2 891.8 1290.9 878.8 1291.5 860.0C1292.1 841.2 1292.4 823.3 1293.2 795.0C1294.0 766.7 1295.7 718.0 1296.6 690.0C1297.5 662.0 1298.0 647.3 1298.5 627.0C1299.0 606.7 1299.3 586.4 1299.6 568.0C1299.9 549.6 1300.3 529.7 1300.5 516.7C1300.7 503.7 1300.5 504.3 1300.8 490.0C1301.2 475.7 1302.0 449.1 1302.6 430.8C1303.2 412.6 1304.0 397.4 1304.6 380.7C1305.2 364.0 1305.8 347.3 1306.4 330.6C1306.9 313.8 1307.5 294.8 1308.1 280.4C1308.7 266.0 1309.5 251.2 1310.1 244.1C1310.7 237.0 1311.2 235.9 1311.9 237.8C1312.5 239.7 1313.1 244.1 1313.9 255.3C1314.6 266.6 1315.5 288.8 1316.4 305.5C1317.2 322.2 1318.1 341.0 1318.9 355.6C1319.7 370.3 1320.6 385.1 1321.4 393.2C1322.1 401.4 1322.6 404.5 1323.4 404.5C1324.2 404.5 1325.5 397.8 1326.4 393.2C1327.3 388.6 1328.1 380.3 1328.9 376.9C1329.7 373.6 1330.5 372.5 1331.4 373.2C1332.4 373.8 1333.7 375.3 1334.7 380.7C1335.6 386.1 1336.4 398.9 1337.2 405.8C1338.0 412.7 1338.9 418.7 1339.7 422.1C1340.5 425.4 1341.4 428.5 1342.2 425.8C1343.0 423.1 1343.9 419.6 1344.7 405.8C1345.5 392.0 1346.4 364.0 1347.2 343.1C1348.1 322.2 1348.9 301.3 1349.7 280.4C1350.6 259.5 1351.4 236.5 1352.2 217.7C1353.1 198.9 1353.9 178.6 1354.7 167.6C1355.5 156.7 1356.2 150.0 1357.0 152.1C1357.8 154.2 1358.7 167.1 1359.5 180.1C1360.3 193.2 1360.9 211.5 1361.5 230.3C1362.1 249.1 1362.7 272.1 1363.3 293.0C1363.8 313.8 1364.3 334.7 1364.8 355.6C1365.2 376.5 1365.5 395.9 1366.0 418.3C1366.5 440.7 1367.4 473.6 1367.8 490.0C1368.2 506.4 1368.1 503.7 1368.4 516.7C1368.7 529.7 1369.3 549.6 1369.8 568.0C1370.3 586.4 1370.8 606.7 1371.3 627.0C1371.8 647.3 1372.4 666.7 1373.0 690.0C1373.6 713.3 1374.4 738.7 1375.0 767.0C1375.6 795.3 1376.1 834.5 1376.5 860.0C1376.9 885.5 1376.9 901.2 1377.5 920.0C1378.1 938.8 1379.5 955.0 1380.3 972.5C1381.1 990.0 1381.9 1010.4 1382.5 1025.0C1383.1 1039.6 1383.5 1046.7 1384.0 1060.0C1384.5 1073.3 1385.0 1088.7 1385.6 1105.0C1386.2 1121.3 1387.1 1144.8 1387.8 1158.0C1388.5 1171.2 1389.3 1178.3 1390.0 1184.0C1390.7 1189.7 1391.1 1196.0 1391.7 1192.0C1392.3 1188.0 1393.0 1173.7 1393.5 1160.0C1394.0 1146.3 1394.5 1126.7 1395.0 1110.0C1395.5 1093.3 1396.1 1076.7 1396.5 1060.0C1396.9 1043.3 1397.2 1024.2 1397.5 1010.0C1397.8 995.8 1398.1 984.7 1398.5 975.0C1398.9 965.3 1399.5 956.8 1400.0 952.0C1400.5 947.2 1401.0 946.1 1401.5 946.0C1402.0 945.9 1402.3 945.3 1403.2 951.5C1404.1 957.7 1405.8 972.5 1406.7 983.0C1407.6 993.5 1408.2 1006.0 1408.8 1014.5C1409.4 1023.0 1409.9 1029.5 1410.4 1034.0C1410.9 1038.5 1411.4 1041.7 1412.0 1041.5C1412.6 1041.3 1413.4 1041.0 1414.1 1033.0C1414.8 1025.0 1415.5 1007.1 1416.2 993.5C1416.9 979.9 1417.6 965.4 1418.3 951.5C1419.0 937.6 1419.8 923.1 1420.4 910.0C1421.0 896.9 1421.5 880.7 1422.0 873.0C1422.5 865.3 1423.0 864.0 1423.5 864.0C1424.0 864.0 1424.5 868.7 1425.0 873.0C1425.5 877.3 1426.0 882.2 1426.5 890.0C1427.0 897.8 1427.5 909.8 1428.0 920.0C1428.5 930.2 1428.8 941.0 1429.3 951.5C1429.8 962.0 1430.2 972.5 1430.7 983.0C1431.2 993.5 1431.6 1004.0 1432.0 1014.5C1432.4 1025.0 1432.7 1034.6 1433.0 1046.0C1433.3 1057.4 1433.5 1071.2 1433.8 1083.0C1434.1 1094.8 1434.3 1105.8 1434.6 1117.0C1434.9 1128.2 1435.3 1139.8 1435.8 1150.0C1436.2 1160.2 1436.8 1171.3 1437.3 1178.0C1437.8 1184.7 1438.3 1190.0 1439.0 1190.0C1439.7 1190.0 1440.5 1184.7 1441.3 1178.0C1442.0 1171.3 1442.6 1158.3 1443.5 1150.0C1444.4 1141.7 1445.8 1135.4 1446.9 1128.0C1448.0 1120.6 1449.2 1113.1 1450.2 1105.7C1451.2 1098.3 1452.2 1091.4 1453.0 1083.4C1453.8 1075.5 1454.6 1065.9 1455.3 1058.0C1456.0 1050.1 1456.5 1041.2 1457.0 1036.0C1457.5 1030.8 1458.0 1028.7 1458.5 1027.0C1459.0 1025.3 1459.3 1025.4 1459.8 1025.6C1460.3 1025.8 1460.9 1026.1 1461.5 1028.0C1462.1 1029.9 1462.7 1032.2 1463.4 1037.0C1464.2 1041.8 1465.2 1048.8 1466.0 1056.5C1466.8 1064.2 1467.3 1072.9 1468.2 1083.0C1469.1 1093.1 1470.1 1106.6 1471.4 1116.9C1472.7 1127.2 1474.1 1136.4 1475.8 1144.7C1477.5 1153.0 1479.5 1161.2 1481.4 1167.0C1483.3 1172.8 1485.4 1176.8 1487.0 1179.2C1488.6 1181.6 1489.4 1181.3 1490.9 1181.1C1492.4 1181.0 1494.1 1179.6 1495.9 1178.1C1497.7 1176.7 1499.8 1175.3 1501.5 1172.6C1503.1 1169.8 1504.4 1167.0 1505.9 1161.4C1507.4 1155.8 1508.9 1146.2 1510.4 1139.1C1511.9 1132.1 1513.4 1124.7 1514.8 1119.1C1516.3 1113.5 1517.9 1108.4 1519.3 1105.7C1520.7 1103.0 1522.1 1102.0 1523.2 1102.9C1524.3 1103.9 1525.1 1106.2 1526.0 1111.3C1526.9 1116.4 1527.9 1127.1 1528.8 1133.6C1529.6 1140.1 1530.2 1145.5 1531.0 1150.3C1531.8 1155.1 1533.0 1159.9 1533.8 1162.5C1534.5 1165.2 1534.9 1166.5 1535.5 1166.0C1536.0 1165.4 1536.5 1165.5 1537.1 1159.2C1537.8 1152.9 1538.4 1138.8 1539.4 1128.0C1540.3 1117.2 1541.6 1102.7 1542.7 1094.6C1543.8 1086.4 1544.8 1082.1 1546.0 1079.0C1547.3 1075.8 1548.6 1075.1 1549.9 1075.8C1551.2 1076.6 1552.5 1078.4 1553.8 1083.4C1555.2 1088.4 1556.8 1098.7 1558.3 1105.7C1559.8 1112.8 1561.3 1120.4 1562.8 1125.8C1564.2 1131.2 1565.8 1135.6 1567.2 1138.0C1568.7 1140.5 1569.9 1140.8 1571.5 1140.4C1573.1 1139.9 1575.1 1137.6 1576.7 1135.2C1578.3 1132.9 1579.6 1128.1 1581.1 1126.4C1582.5 1124.7 1583.8 1124.4 1585.5 1124.9C1587.2 1125.4 1589.7 1126.6 1591.4 1129.3C1593.1 1132.0 1594.3 1136.4 1595.8 1141.1C1597.2 1145.8 1598.5 1152.4 1600.2 1157.3C1601.9 1162.2 1604.1 1166.3 1606.1 1170.5C1608.0 1174.7 1610.0 1179.2 1611.9 1182.3C1613.9 1185.3 1615.6 1188.6 1617.8 1188.9C1620.0 1189.1 1622.7 1185.8 1625.2 1183.7C1627.6 1181.6 1630.1 1179.1 1632.5 1176.4C1635.0 1173.7 1637.4 1171.2 1639.9 1167.6C1642.3 1163.9 1645.0 1160.2 1647.2 1154.3C1649.4 1148.5 1651.1 1142.1 1653.1 1132.3C1655.1 1122.5 1657.0 1108.3 1659.0 1095.5C1660.9 1082.8 1663.0 1065.4 1664.9 1055.9C1666.7 1046.3 1668.4 1046.4 1670.1 1038.0C1671.9 1029.6 1673.7 1014.6 1675.2 1005.4C1676.6 996.2 1677.7 992.1 1678.9 982.9C1680.2 973.7 1681.4 959.1 1682.7 950.3C1683.9 941.5 1685.3 935.7 1686.4 930.2C1687.6 924.8 1688.2 920.8 1689.7 917.7C1691.2 914.6 1693.7 913.7 1695.2 911.4C1696.8 909.1 1698.1 906.7 1699.0 903.9C1699.8 901.1 1700.0 896.2 1700.2 894.6"/>
<path stroke="#0000a0" transform="translate(0 -0.5)" d="M283.2 1201.4C284.7 1199.7 288.6 1193.0 292.0 1191.1C295.5 1189.1 300.4 1191.1 303.8 1189.6C307.2 1188.1 309.7 1183.7 312.6 1182.3C315.6 1180.8 318.7 1182.0 321.4 1180.8C324.1 1179.6 326.3 1176.4 328.8 1174.9C331.2 1173.4 333.9 1173.1 336.1 1172.0C338.3 1170.9 340.3 1168.4 342.0 1168.3C343.7 1168.2 344.7 1171.5 346.4 1171.2C348.1 1171.0 350.3 1167.2 352.3 1166.8C354.3 1166.5 356.0 1168.9 358.2 1169.0C360.4 1169.2 363.1 1167.3 365.5 1167.6C368.0 1167.8 370.2 1169.9 372.9 1170.5C375.6 1171.1 378.0 1171.5 381.7 1171.2C385.4 1171.0 391.5 1169.0 394.9 1169.0C398.4 1169.0 399.8 1170.6 402.3 1171.2C404.7 1171.8 407.2 1172.3 409.6 1172.7C412.1 1173.1 414.5 1173.3 417.0 1173.4C419.4 1173.6 421.9 1174.2 424.3 1173.4C426.8 1172.7 429.2 1169.0 431.7 1169.0C434.1 1169.0 436.6 1172.7 439.0 1173.4C441.5 1174.2 443.9 1173.7 446.4 1173.4C448.8 1173.2 451.5 1171.7 453.7 1172.0C455.9 1172.2 457.6 1175.0 459.6 1174.9C461.6 1174.8 463.5 1171.2 465.5 1171.2C467.4 1171.2 469.2 1174.5 471.4 1174.9C473.6 1175.3 475.5 1173.3 478.7 1173.4C481.9 1173.6 486.1 1175.3 490.5 1175.6C494.9 1176.0 500.3 1175.6 505.2 1175.6C510.1 1175.6 515.0 1175.9 519.9 1175.6C524.8 1175.4 529.5 1174.5 534.6 1174.2C539.6 1173.8 545.5 1173.8 550.0 1173.4C554.5 1173.1 556.9 1171.7 561.8 1172.0C566.7 1172.2 574.0 1174.1 579.4 1174.9C584.8 1175.8 588.5 1176.4 594.1 1177.1C599.7 1177.8 609.0 1179.1 613.2 1179.3C617.4 1179.6 617.0 1178.3 619.1 1178.6C621.2 1178.8 623.0 1180.8 625.7 1180.8C628.4 1180.8 631.9 1179.2 635.2 1178.6C638.6 1178.0 642.1 1176.9 645.5 1177.1C649.0 1177.4 652.2 1179.0 655.8 1180.1C659.5 1181.2 663.2 1182.7 667.6 1183.7C672.0 1184.7 678.4 1185.0 682.3 1185.9C686.2 1186.9 687.9 1188.7 691.1 1189.6C694.3 1190.5 698.0 1190.2 701.4 1191.1C704.8 1191.9 707.5 1193.4 711.7 1194.8C715.8 1196.1 722.5 1198.2 726.4 1199.2C730.3 1200.1 732.3 1201.0 735.2 1200.6C738.1 1200.3 741.1 1197.8 744.0 1197.0C747.0 1196.1 749.9 1196.2 752.8 1195.5C755.8 1194.8 758.7 1192.4 761.7 1192.5C764.6 1192.7 767.5 1195.2 770.5 1196.2C773.4 1197.2 775.9 1198.2 779.3 1198.4C782.7 1198.7 787.1 1197.6 791.0 1197.7C795.0 1197.8 798.9 1199.0 802.8 1199.2C806.7 1199.3 810.0 1198.5 814.6 1198.4C819.1 1198.3 822.5 1198.2 830.0 1198.4C837.5 1198.7 849.6 1199.7 859.4 1199.9C869.2 1200.1 879.0 1200.1 888.8 1199.9C898.6 1199.7 908.4 1198.7 918.2 1198.4C928.0 1198.2 940.2 1198.8 947.6 1198.4C954.9 1198.1 957.4 1197.0 962.3 1196.2C967.2 1195.5 972.1 1194.9 977.0 1194.0C981.9 1193.2 986.8 1191.3 991.7 1191.1C996.6 1190.8 1001.5 1192.5 1006.4 1192.5C1011.3 1192.5 1016.2 1191.2 1021.1 1191.1C1026.0 1191.0 1030.9 1191.8 1035.8 1191.8C1040.7 1191.8 1045.6 1191.1 1050.5 1191.1C1055.4 1191.1 1060.3 1191.6 1065.2 1191.8C1070.1 1192.1 1075.2 1191.7 1079.9 1192.5C1084.5 1193.4 1089.4 1197.2 1093.1 1197.0C1096.8 1196.7 1099.1 1192.3 1101.9 1191.1C1104.7 1189.9 1106.2 1189.6 1110.0 1189.6C1113.8 1189.6 1119.8 1190.6 1124.7 1191.1C1129.6 1191.6 1134.5 1192.5 1139.4 1192.5C1144.3 1192.5 1149.2 1191.3 1154.1 1191.1C1159.0 1190.8 1165.1 1190.6 1168.8 1191.1C1172.5 1191.6 1173.2 1193.8 1176.1 1194.0C1179.1 1194.3 1182.8 1191.9 1186.4 1192.5C1190.1 1193.2 1193.8 1196.2 1198.2 1197.7C1202.6 1199.2 1208.0 1200.6 1212.9 1201.4C1217.8 1202.1 1222.7 1201.9 1227.6 1202.1C1232.5 1202.3 1237.4 1202.8 1242.3 1202.8C1247.2 1202.8 1252.1 1202.5 1257.0 1202.1C1261.9 1201.7 1266.8 1201.1 1271.7 1200.6C1276.6 1200.1 1282.5 1199.8 1286.4 1199.2C1290.3 1198.5 1292.7 1198.3 1295.2 1197.0C1297.6 1195.6 1299.1 1193.3 1301.1 1191.1C1303.0 1188.9 1305.0 1185.9 1307.0 1183.7C1308.9 1181.5 1310.9 1179.2 1312.8 1177.8C1314.8 1176.5 1316.8 1175.4 1318.7 1175.6C1320.7 1175.9 1322.6 1178.2 1324.6 1179.3C1326.6 1180.4 1328.0 1181.6 1330.5 1182.3C1332.9 1182.9 1336.4 1182.4 1339.3 1183.0C1342.2 1183.6 1345.7 1185.8 1348.1 1185.9C1350.6 1186.1 1352.0 1184.8 1354.0 1183.7C1355.9 1182.6 1357.9 1180.3 1359.9 1179.3C1361.8 1178.3 1364.0 1177.7 1365.7 1177.8C1367.5 1178.0 1368.2 1178.3 1370.2 1180.1C1372.1 1181.8 1375.1 1185.6 1377.5 1188.1C1380.0 1190.7 1382.8 1193.3 1384.9 1195.5C1386.9 1197.7 1388.1 1200.6 1390.1 1201.5C1392.0 1202.4 1394.7 1202.1 1396.7 1201.0C1398.8 1199.9 1400.5 1196.3 1402.3 1194.8C1404.2 1193.4 1405.8 1192.2 1407.9 1192.1C1409.9 1191.9 1412.7 1193.3 1414.6 1193.7C1416.4 1194.2 1417.4 1195.2 1419.0 1194.8C1420.7 1194.5 1422.7 1192.5 1424.6 1191.5C1426.5 1190.5 1428.5 1188.7 1430.2 1188.7C1431.8 1188.7 1433.0 1190.3 1434.6 1191.5C1436.3 1192.7 1438.0 1195.4 1440.2 1196.0C1442.4 1196.5 1445.2 1195.2 1448.0 1194.8C1450.8 1194.5 1453.9 1194.2 1456.9 1193.7C1459.9 1193.3 1462.9 1192.0 1465.8 1192.1C1468.8 1192.2 1471.2 1193.4 1474.7 1194.3C1478.3 1195.2 1482.2 1196.8 1487.0 1197.6C1491.8 1198.5 1497.2 1199.1 1503.7 1199.3C1510.2 1199.5 1518.6 1198.9 1526.0 1198.7C1533.4 1198.6 1540.9 1198.2 1548.3 1198.2C1555.6 1198.2 1564.5 1198.5 1570.0 1198.7C1575.5 1199.0 1574.3 1199.6 1581.1 1199.9C1587.8 1200.2 1600.7 1200.5 1610.5 1200.6C1620.3 1200.8 1629.9 1200.8 1639.9 1200.6C1649.8 1200.5 1660.9 1200.3 1670.1 1199.7C1679.4 1199.2 1686.9 1197.8 1695.2 1197.2C1703.6 1196.6 1711.9 1196.6 1720.3 1196.0C1728.6 1195.3 1738.6 1194.0 1745.3 1193.5C1752.1 1193.0 1758.1 1193.0 1760.6 1193.0"/>
<path stroke="#0000a0" transform="translate(0 0.5)" d="M283.2 1201.4C284.7 1199.7 288.6 1193.0 292.0 1191.1C295.5 1189.1 300.4 1191.1 303.8 1189.6C307.2 1188.1 309.7 1183.7 312.6 1182.3C315.6 1180.8 318.7 1182.0 321.4 1180.8C324.1 1179.6 326.3 1176.4 328.8 1174.9C331.2 1173.4 333.9 1173.1 336.1 1172.0C338.3 1170.9 340.3 1168.4 342.0 1168.3C343.7 1168.2 344.7 1171.5 346.4 1171.2C348.1 1171.0 350.3 1167.2 352.3 1166.8C354.3 1166.5 356.0 1168.9 358.2 1169.0C360.4 1169.2 363.1 1167.3 365.5 1167.6C368.0 1167.8 370.2 1169.9 372.9 1170.5C375.6 1171.1 378.0 1171.5 381.7 1171.2C385.4 1171.0 391.5 1169.0 394.9 1169.0C398.4 1169.0 399.8 1170.6 402.3 1171.2C404.7 1171.8 407.2 1172.3 409.6 1172.7C412.1 1173.1 414.5 1173.3 417.0 1173.4C419.4 1173.6 421.9 1174.2 424.3 1173.4C426.8 1172.7 429.2 1169.0 431.7 1169.0C434.1 1169.0 436.6 1172.7 439.0 1173.4C441.5 1174.2 443.9 1173.7 446.4 1173.4C448.8 1173.2 451.5 1171.7 453.7 1172.0C455.9 1172.2 457.6 1175.0 459.6 1174.9C461.6 1174.8 463.5 1171.2 465.5 1171.2C467.4 1171.2 469.2 1174.5 471.4 1174.9C473.6 1175.3 475.5 1173.3 478.7 1173.4C481.9 1173.6 486.1 1175.3 490.5 1175.6C494.9 1176.0 500.3 1175.6 505.2 1175.6C510.1 1175.6 515.0 1175.9 519.9 1175.6C524.8 1175.4 529.5 1174.5 534.6 1174.2C539.6 1173.8 545.5 1173.8 550.0 1173.4C554.5 1173.1 556.9 1171.7 561.8 1172.0C566.7 1172.2 574.0 1174.1 579.4 1174.9C584.8 1175.8 588.5 1176.4 594.1 1177.1C599.7 1177.8 609.0 1179.1 613.2 1179.3C617.4 1179.6 617.0 1178.3 619.1 1178.6C621.2 1178.8 623.0 1180.8 625.7 1180.8C628.4 1180.8 631.9 1179.2 635.2 1178.6C638.6 1178.0 642.1 1176.9 645.5 1177.1C649.0 1177.4 652.2 1179.0 655.8 1180.1C659.5 1181.2 663.2 1182.7 667.6 1183.7C672.0 1184.7 678.4 1185.0 682.3 1185.9C686.2 1186.9 687.9 1188.7 691.1 1189.6C694.3 1190.5 698.0 1190.2 701.4 1191.1C704.8 1191.9 707.5 1193.4 711.7 1194.8C715.8 1196.1 722.5 1198.2 726.4 1199.2C730.3 1200.1 732.3 1201.0 735.2 1200.6C738.1 1200.3 741.1 1197.8 744.0 1197.0C747.0 1196.1 749.9 1196.2 752.8 1195.5C755.8 1194.8 758.7 1192.4 761.7 1192.5C764.6 1192.7 767.5 1195.2 770.5 1196.2C773.4 1197.2 775.9 1198.2 779.3 1198.4C782.7 1198.7 787.1 1197.6 791.0 1197.7C795.0 1197.8 798.9 1199.0 802.8 1199.2C806.7 1199.3 810.0 1198.5 814.6 1198.4C819.1 1198.3 822.5 1198.2 830.0 1198.4C837.5 1198.7 849.6 1199.7 859.4 1199.9C869.2 1200.1 879.0 1200.1 888.8 1199.9C898.6 1199.7 908.4 1198.7 918.2 1198.4C928.0 1198.2 940.2 1198.8 947.6 1198.4C954.9 1198.1 957.4 1197.0 962.3 1196.2C967.2 1195.5 972.1 1194.9 977.0 1194.0C981.9 1193.2 986.8 1191.3 991.7 1191.1C996.6 1190.8 1001.5 1192.5 1006.4 1192.5C1011.3 1192.5 1016.2 1191.2 1021.1 1191.1C1026.0 1191.0 1030.9 1191.8 1035.8 1191.8C1040.7 1191.8 1045.6 1191.1 1050.5 1191.1C1055.4 1191.1 1060.3 1191.6 1065.2 1191.8C1070.1 1192.1 1075.2 1191.7 1079.9 1192.5C1084.5 1193.4 1089.4 1197.2 1093.1 1197.0C1096.8 1196.7 1099.1 1192.3 1101.9 1191.1C1104.7 1189.9 1106.2 1189.6 1110.0 1189.6C1113.8 1189.6 1119.8 1190.6 1124.7 1191.1C1129.6 1191.6 1134.5 1192.5 1139.4 1192.5C1144.3 1192.5 1149.2 1191.3 1154.1 1191.1C1159.0 1190.8 1165.1 1190.6 1168.8 1191.1C1172.5 1191.6 1173.2 1193.8 1176.1 1194.0C1179.1 1194.3 1182.8 1191.9 1186.4 1192.5C1190.1 1193.2 1193.8 1196.2 1198.2 1197.7C1202.6 1199.2 1208.0 1200.6 1212.9 1201.4C1217.8 1202.1 1222.7 1201.9 1227.6 1202.1C1232.5 1202.3 1237.4 1202.8 1242.3 1202.8C1247.2 1202.8 1252.1 1202.5 1257.0 1202.1C1261.9 1201.7 1266.8 1201.1 1271.7 1200.6C1276.6 1200.1 1282.5 1199.8 1286.4 1199.2C1290.3 1198.5 1292.7 1198.3 1295.2 1197.0C1297.6 1195.6 1299.1 1193.3 1301.1 1191.1C1303.0 1188.9 1305.0 1185.9 1307.0 1183.7C1308.9 1181.5 1310.9 1179.2 1312.8 1177.8C1314.8 1176.5 1316.8 1175.4 1318.7 1175.6C1320.7 1175.9 1322.6 1178.2 1324.6 1179.3C1326.6 1180.4 1328.0 1181.6 1330.5 1182.3C1332.9 1182.9 1336.4 1182.4 1339.3 1183.0C1342.2 1183.6 1345.7 1185.8 1348.1 1185.9C1350.6 1186.1 1352.0 1184.8 1354.0 1183.7C1355.9 1182.6 1357.9 1180.3 1359.9 1179.3C1361.8 1178.3 1364.0 1177.7 1365.7 1177.8C1367.5 1178.0 1368.2 1178.3 1370.2 1180.1C1372.1 1181.8 1375.1 1185.6 1377.5 1188.1C1380.0 1190.7 1382.8 1193.3 1384.9 1195.5C1386.9 1197.7 1388.1 1200.6 1390.1 1201.5C1392.0 1202.4 1394.7 1202.1 1396.7 1201.0C1398.8 1199.9 1400.5 1196.3 1402.3 1194.8C1404.2 1193.4 1405.8 1192.2 1407.9 1192.1C1409.9 1191.9 1412.7 1193.3 1414.6 1193.7C1416.4 1194.2 1417.4 1195.2 1419.0 1194.8C1420.7 1194.5 1422.7 1192.5 1424.6 1191.5C1426.5 1190.5 1428.5 1188.7 1430.2 1188.7C1431.8 1188.7 1433.0 1190.3 1434.6 1191.5C1436.3 1192.7 1438.0 1195.4 1440.2 1196.0C1442.4 1196.5 1445.2 1195.2 1448.0 1194.8C1450.8 1194.5 1453.9 1194.2 1456.9 1193.7C1459.9 1193.3 1462.9 1192.0 1465.8 1192.1C1468.8 1192.2 1471.2 1193.4 1474.7 1194.3C1478.3 1195.2 1482.2 1196.8 1487.0 1197.6C1491.8 1198.5 1497.2 1199.1 1503.7 1199.3C1510.2 1199.5 1518.6 1198.9 1526.0 1198.7C1533.4 1198.6 1540.9 1198.2 1548.3 1198.2C1555.6 1198.2 1564.5 1198.5 1570.0 1198.7C1575.5 1199.0 1574.3 1199.6 1581.1 1199.9C1587.8 1200.2 1600.7 1200.5 1610.5 1200.6C1620.3 1200.8 1629.9 1200.8 1639.9 1200.6C1649.8 1200.5 1660.9 1200.3 1670.1 1199.7C1679.4 1199.2 1686.9 1197.8 1695.2 1197.2C1703.6 1196.6 1711.9 1196.6 1720.3 1196.0C1728.6 1195.3 1738.6 1194.0 1745.3 1193.5C1752.1 1193.0 1758.1 1193.0 1760.6 1193.0"/>
<path stroke="#008000" transform="translate(0 -0.5)" d="M283.2 1197.0C284.2 1194.3 286.4 1185.9 289.1 1180.8C291.8 1175.6 296.2 1170.7 299.4 1166.1C302.6 1161.4 305.8 1157.0 308.2 1152.9C310.7 1148.7 312.1 1145.0 314.1 1141.1C316.1 1137.2 318.1 1132.0 320.0 1129.3C321.8 1126.6 323.6 1128.4 325.1 1124.9C326.6 1121.5 327.2 1112.4 328.8 1108.8C330.4 1105.1 333.0 1105.1 334.7 1102.9C336.4 1100.7 337.9 1098.2 339.1 1095.5C340.3 1092.8 341.2 1084.0 342.0 1086.7C342.9 1089.4 343.0 1106.3 344.2 1111.7C345.5 1117.1 348.0 1120.8 349.4 1119.1C350.7 1117.3 350.8 1102.4 352.3 1101.4C353.8 1100.4 356.2 1109.0 358.2 1113.2C360.1 1117.3 362.1 1122.0 364.1 1126.4C366.0 1130.8 368.0 1135.7 369.9 1139.6C371.9 1143.6 373.7 1145.9 375.8 1149.9C377.9 1154.0 380.5 1163.4 382.4 1163.9C384.4 1164.4 386.0 1155.4 387.6 1152.9C389.2 1150.3 390.0 1149.4 392.0 1148.5C394.0 1147.5 397.6 1146.7 399.3 1147.0C401.1 1147.2 401.3 1147.0 402.3 1149.9C403.3 1152.9 404.0 1159.5 405.2 1164.6C406.4 1169.8 407.9 1176.1 409.6 1180.8C411.3 1185.4 414.0 1189.9 415.5 1192.5C417.0 1195.2 417.0 1196.7 418.5 1197.0C419.9 1197.2 422.6 1194.1 424.3 1194.0C426.0 1193.9 427.0 1196.2 428.7 1196.2C430.5 1196.2 432.7 1195.1 434.6 1194.0C436.6 1192.9 438.5 1192.5 440.5 1189.6C442.5 1186.7 444.8 1182.3 446.4 1176.4C448.0 1170.5 448.1 1159.5 450.1 1154.3C452.0 1149.2 455.6 1149.9 458.1 1145.5C460.7 1141.1 463.0 1135.0 465.5 1127.9C467.9 1120.8 470.1 1111.0 472.8 1102.9C475.5 1094.8 478.7 1087.2 481.7 1079.4C484.6 1071.5 487.5 1063.4 490.5 1055.9C493.4 1048.3 496.4 1042.5 499.3 1033.8C502.2 1025.1 505.2 1013.2 507.9 1003.8C510.6 994.4 513.0 986.5 515.6 977.4C518.2 968.2 520.7 957.5 523.3 948.7C525.9 939.9 528.6 931.1 531.0 924.4C533.4 917.8 535.4 913.8 537.6 909.0C539.8 904.2 542.2 900.6 544.3 895.8C546.3 891.0 547.7 884.8 549.8 880.4C551.8 875.9 554.2 873.4 556.4 869.3C558.6 865.3 560.8 860.5 563.0 856.1C565.2 851.7 567.6 845.8 569.6 842.9C571.6 839.9 573.5 839.4 575.1 838.5C576.8 837.5 577.9 837.2 579.5 837.4C581.2 837.5 583.2 838.6 585.0 839.6C586.9 840.5 588.3 842.3 590.6 842.9C592.8 843.4 595.9 842.1 598.3 842.9C600.7 843.6 602.7 845.8 604.9 847.3C607.1 848.8 608.9 851.1 611.5 851.7C614.1 852.2 618.1 851.5 620.3 850.6C622.5 849.7 622.9 848.8 624.7 846.2C626.6 843.6 629.1 838.6 631.3 835.2C633.5 831.7 635.9 827.4 638.0 825.2C640.0 823.0 641.6 821.7 643.5 821.9C645.3 822.1 647.1 824.0 649.0 826.3C650.8 828.7 652.7 832.0 654.5 836.3C656.3 840.5 658.0 845.4 660.0 851.7C662.0 857.9 664.4 866.4 666.6 873.7C668.8 881.1 671.0 888.4 673.2 895.8C675.4 903.1 677.6 910.5 679.8 917.8C682.0 925.2 684.3 932.5 686.5 939.9C688.7 947.2 690.9 954.9 693.1 961.9C695.3 968.9 697.5 975.2 699.7 981.8C701.9 988.4 704.3 995.9 706.3 1001.6C708.3 1007.3 709.6 1010.3 711.7 1016.2C713.8 1022.0 716.6 1029.9 719.0 1036.7C721.5 1043.6 724.4 1052.2 726.4 1057.3C728.3 1062.5 729.6 1065.4 730.8 1067.6C732.0 1069.8 732.6 1070.8 733.7 1070.6C734.8 1070.3 736.2 1069.6 737.4 1066.1C738.6 1062.7 740.0 1054.9 741.1 1050.0C742.2 1045.1 742.8 1039.8 744.0 1036.7C745.2 1033.7 746.7 1032.9 748.4 1031.6C750.1 1030.3 752.5 1029.6 754.3 1028.7C756.1 1027.7 758.1 1025.1 759.4 1025.7C760.8 1026.3 761.4 1028.3 762.4 1032.3C763.4 1036.4 764.2 1042.6 765.3 1050.0C766.4 1057.3 767.7 1068.6 769.0 1076.4C770.3 1084.3 771.9 1091.4 773.4 1097.0C774.9 1102.6 776.1 1106.6 777.8 1110.2C779.5 1113.9 782.1 1117.2 783.7 1119.1C785.3 1120.9 786.2 1121.3 787.4 1121.3C788.6 1121.3 789.9 1118.7 791.0 1119.1C792.2 1119.4 793.1 1120.5 794.0 1123.5C794.8 1126.4 795.2 1132.5 796.2 1136.7C797.2 1140.9 798.3 1145.3 799.9 1148.5C801.5 1151.6 803.3 1153.8 805.7 1155.8C808.2 1157.8 811.9 1158.7 814.6 1160.2C817.3 1161.7 819.3 1162.7 821.9 1164.6C824.5 1166.6 827.4 1169.3 830.0 1172.0C832.6 1174.7 834.9 1178.1 837.3 1180.8C839.8 1183.5 842.2 1186.1 844.7 1188.1C847.1 1190.2 849.1 1191.7 852.0 1193.3C855.0 1194.9 858.7 1196.5 862.3 1197.7C866.0 1198.9 869.7 1199.9 874.1 1200.6C878.5 1201.4 883.9 1201.9 888.8 1202.1C893.7 1202.3 898.6 1202.2 903.5 1202.1C908.4 1202.0 913.3 1201.9 918.2 1201.4C923.1 1200.9 928.0 1200.1 932.9 1199.2C937.8 1198.2 942.7 1196.6 947.6 1195.5C952.5 1194.4 957.4 1193.6 962.3 1192.5C967.2 1191.4 972.8 1190.0 977.0 1188.9C981.1 1187.8 984.8 1187.0 987.3 1185.9C989.7 1184.8 990.2 1183.8 991.7 1182.3C993.1 1180.7 994.6 1177.6 996.1 1176.4C997.6 1175.2 998.8 1174.9 1000.5 1174.9C1002.2 1174.9 1004.4 1176.5 1006.4 1176.4C1008.3 1176.3 1010.3 1175.0 1012.3 1174.2C1014.2 1173.3 1016.2 1172.1 1018.1 1171.2C1020.1 1170.4 1022.1 1169.2 1024.0 1169.0C1026.0 1168.9 1027.9 1169.5 1029.9 1170.5C1031.9 1171.5 1033.8 1173.8 1035.8 1174.9C1037.7 1176.0 1039.2 1176.5 1041.7 1177.1C1044.1 1177.7 1047.5 1178.3 1050.5 1178.6C1053.4 1178.8 1056.4 1178.3 1059.3 1178.6C1062.2 1178.8 1065.2 1179.4 1068.1 1180.1C1071.0 1180.7 1074.0 1181.5 1076.9 1182.3C1079.9 1183.0 1083.4 1183.2 1085.7 1184.5C1088.1 1185.7 1089.4 1188.0 1090.9 1189.6C1092.4 1191.2 1093.5 1194.3 1094.6 1194.0C1095.7 1193.8 1096.5 1190.8 1097.5 1188.1C1098.5 1185.4 1099.2 1180.4 1100.4 1177.8C1101.7 1175.3 1103.3 1173.9 1104.9 1172.7C1106.4 1171.5 1107.7 1170.7 1110.0 1170.5C1112.3 1170.3 1115.9 1170.7 1118.8 1171.2C1121.8 1171.7 1124.7 1172.2 1127.6 1173.4C1130.6 1174.7 1134.0 1176.6 1136.5 1178.6C1138.9 1180.5 1140.4 1182.6 1142.3 1185.2C1144.3 1187.8 1146.5 1191.9 1148.2 1194.0C1149.9 1196.1 1150.9 1197.7 1152.6 1197.7C1154.3 1197.7 1156.3 1194.9 1158.5 1194.0C1160.7 1193.2 1163.6 1192.1 1165.9 1192.5C1168.1 1193.0 1170.0 1195.9 1171.7 1197.0C1173.4 1198.1 1174.2 1199.4 1176.1 1199.2C1178.1 1198.9 1180.8 1196.5 1183.5 1195.5C1186.2 1194.5 1189.4 1193.6 1192.3 1193.3C1195.2 1192.9 1198.2 1192.8 1201.1 1193.3C1204.1 1193.8 1206.8 1195.5 1209.9 1196.2C1213.1 1197.0 1217.3 1197.3 1220.2 1197.7C1223.2 1198.1 1225.1 1198.4 1227.6 1198.4C1230.0 1198.4 1232.5 1197.7 1234.9 1197.7C1237.4 1197.7 1240.3 1197.9 1242.3 1198.4C1244.2 1198.9 1245.0 1201.0 1246.7 1200.6C1248.4 1200.3 1250.4 1197.2 1252.6 1196.2C1254.8 1195.2 1257.5 1195.4 1259.9 1194.8C1262.4 1194.1 1264.4 1195.1 1267.3 1192.5C1270.2 1190.0 1274.4 1182.3 1277.3 1179.3C1280.2 1176.3 1282.6 1177.7 1284.6 1174.4C1286.7 1171.2 1287.9 1166.3 1289.5 1159.8C1291.1 1153.3 1293.0 1144.8 1294.4 1135.4C1295.8 1126.1 1296.8 1117.1 1298.0 1103.7C1299.2 1090.3 1300.5 1071.2 1301.7 1055.0C1302.9 1038.7 1304.1 1022.5 1305.3 1006.2C1306.6 990.0 1307.8 972.9 1309.0 957.5C1310.2 942.1 1311.6 924.6 1312.7 913.6C1313.7 902.7 1314.3 896.4 1315.1 891.7C1315.9 887.0 1316.7 885.2 1317.5 885.6C1318.3 886.0 1319.2 889.0 1320.0 894.1C1320.8 899.2 1321.6 907.9 1322.4 916.1C1323.2 924.2 1323.8 935.6 1324.8 942.9C1325.9 950.2 1327.3 956.5 1328.5 959.9C1329.7 963.4 1330.9 963.4 1332.2 963.6C1333.4 963.8 1334.6 960.5 1335.8 961.1C1337.0 961.8 1338.4 964.2 1339.5 967.2C1340.5 970.3 1340.9 975.2 1341.9 979.4C1342.9 983.7 1344.5 990.2 1345.6 992.8C1346.7 995.5 1347.5 996.3 1348.5 995.3C1349.5 994.3 1350.7 991.8 1351.7 986.7C1352.6 981.7 1353.3 972.5 1354.1 964.8C1354.9 957.1 1355.7 948.1 1356.5 940.4C1357.3 932.7 1358.1 924.4 1359.0 918.5C1359.8 912.6 1360.5 908.1 1361.4 905.1C1362.3 902.0 1363.3 899.2 1364.3 900.2C1365.3 901.2 1366.6 904.9 1367.5 911.2C1368.4 917.5 1369.1 928.2 1369.9 938.0C1370.7 947.7 1371.6 958.3 1372.4 969.7C1373.2 981.1 1373.8 992.0 1374.8 1006.2C1375.8 1020.5 1377.2 1040.8 1378.5 1055.0C1379.7 1069.2 1380.9 1079.4 1382.1 1091.5C1383.3 1103.7 1384.6 1117.1 1385.8 1128.1C1387.0 1139.1 1388.2 1148.4 1389.4 1157.4C1390.6 1166.3 1392.1 1176.4 1393.1 1181.7C1394.1 1187.0 1394.7 1190.8 1395.6 1189.3C1396.5 1187.7 1397.5 1180.9 1398.4 1172.6C1399.3 1164.2 1400.4 1149.4 1401.2 1139.1C1402.0 1128.9 1402.7 1118.0 1403.4 1111.3C1404.2 1104.6 1404.8 1101.4 1405.7 1099.0C1406.5 1096.6 1407.4 1095.7 1408.4 1096.8C1409.5 1097.9 1410.8 1102.4 1411.8 1105.7C1412.8 1109.1 1413.6 1114.5 1414.6 1116.9C1415.5 1119.2 1416.4 1120.6 1417.4 1119.6C1418.3 1118.7 1419.1 1116.4 1420.1 1111.3C1421.2 1106.2 1422.4 1096.8 1423.5 1089.0C1424.6 1081.2 1425.9 1072.9 1426.8 1064.5C1427.7 1056.1 1428.2 1043.1 1429.0 1038.5C1429.7 1033.9 1430.4 1035.1 1431.2 1036.7C1431.9 1038.4 1433.1 1042.6 1433.7 1048.5C1434.2 1054.4 1433.9 1063.7 1434.6 1072.3C1435.3 1080.9 1436.9 1092.0 1438.0 1100.1C1439.1 1108.3 1440.3 1117.2 1441.3 1121.3C1442.3 1125.4 1443.0 1125.8 1444.1 1124.7C1445.2 1123.5 1446.6 1118.7 1448.0 1114.6C1449.4 1110.5 1451.0 1103.5 1452.5 1100.1C1453.9 1096.8 1455.4 1097.4 1456.9 1094.6C1458.4 1091.8 1460.1 1087.0 1461.4 1083.4C1462.7 1079.9 1463.8 1075.3 1464.7 1073.4C1465.6 1071.4 1466.0 1070.8 1466.9 1071.7C1467.9 1072.7 1469.2 1075.2 1470.3 1079.0C1471.4 1082.8 1472.3 1089.0 1473.6 1094.6C1474.9 1100.1 1476.6 1106.8 1478.1 1112.4C1479.6 1118.0 1480.9 1123.0 1482.5 1128.0C1484.2 1133.0 1486.2 1138.4 1488.1 1142.5C1490.0 1146.6 1491.6 1149.7 1493.7 1152.5C1495.7 1155.3 1498.1 1157.4 1500.4 1159.2C1502.6 1161.0 1504.8 1162.3 1507.0 1163.1C1509.3 1163.8 1511.5 1163.9 1513.7 1163.6C1516.0 1163.4 1518.2 1162.1 1520.4 1161.4C1522.6 1160.8 1525.4 1159.6 1527.1 1159.7C1528.8 1159.9 1529.3 1160.8 1530.4 1162.5C1531.6 1164.3 1532.7 1167.7 1533.8 1170.3C1534.9 1172.9 1536.0 1176.5 1537.1 1178.1C1538.2 1179.8 1539.4 1180.7 1540.5 1180.4C1541.6 1180.0 1542.5 1178.1 1543.8 1175.9C1545.1 1173.7 1546.8 1169.4 1548.3 1167.0C1549.8 1164.6 1551.2 1162.5 1552.7 1161.4C1554.2 1160.3 1555.7 1160.1 1557.2 1160.3C1558.7 1160.5 1559.5 1160.9 1561.6 1162.5C1563.8 1164.2 1568.0 1168.1 1570.0 1170.3C1572.0 1172.5 1571.9 1174.0 1573.7 1175.6C1575.6 1177.3 1578.6 1179.0 1581.1 1180.1C1583.5 1181.2 1586.0 1181.3 1588.4 1182.3C1590.9 1183.2 1593.3 1184.6 1595.8 1185.9C1598.2 1187.3 1600.7 1189.1 1603.1 1190.3C1605.6 1191.6 1607.8 1192.5 1610.5 1193.3C1613.2 1194.0 1616.4 1194.6 1619.3 1194.8C1622.2 1194.9 1624.7 1194.8 1628.1 1194.0C1631.5 1193.3 1635.9 1191.8 1639.9 1190.3C1643.8 1188.9 1648.4 1187.0 1651.6 1185.2C1654.8 1183.4 1656.8 1181.5 1659.0 1179.3C1661.2 1177.1 1663.4 1174.2 1664.9 1172.0C1666.3 1169.7 1665.5 1168.4 1667.6 1165.9C1669.8 1163.4 1674.3 1160.4 1677.7 1157.1C1681.0 1153.8 1683.9 1150.4 1687.7 1145.8C1691.4 1141.2 1696.5 1133.5 1700.2 1129.5C1704.0 1125.6 1706.9 1124.3 1710.3 1122.0C1713.6 1119.7 1716.5 1118.5 1720.3 1115.7C1724.0 1113.0 1728.6 1108.8 1732.8 1105.7C1737.0 1102.6 1741.6 1100.1 1745.3 1096.9C1749.1 1093.8 1753.0 1089.2 1755.4 1086.9C1757.8 1084.6 1759.1 1083.8 1759.9 1083.1"/>
<path stroke="#008000" transform="translate(0 0.5)" d="M283.2 1197.0C284.2 1194.3 286.4 1185.9 289.1 1180.8C291.8 1175.6 296.2 1170.7 299.4 1166.1C302.6 1161.4 305.8 1157.0 308.2 1152.9C310.7 1148.7 312.1 1145.0 314.1 1141.1C316.1 1137.2 318.1 1132.0 320.0 1129.3C321.8 1126.6 323.6 1128.4 325.1 1124.9C326.6 1121.5 327.2 1112.4 328.8 1108.8C330.4 1105.1 333.0 1105.1 334.7 1102.9C336.4 1100.7 337.9 1098.2 339.1 1095.5C340.3 1092.8 341.2 1084.0 342.0 1086.7C342.9 1089.4 343.0 1106.3 344.2 1111.7C345.5 1117.1 348.0 1120.8 349.4 1119.1C350.7 1117.3 350.8 1102.4 352.3 1101.4C353.8 1100.4 356.2 1109.0 358.2 1113.2C360.1 1117.3 362.1 1122.0 364.1 1126.4C366.0 1130.8 368.0 1135.7 369.9 1139.6C371.9 1143.6 373.7 1145.9 375.8 1149.9C377.9 1154.0 380.5 1163.4 382.4 1163.9C384.4 1164.4 386.0 1155.4 387.6 1152.9C389.2 1150.3 390.0 1149.4 392.0 1148.5C394.0 1147.5 397.6 1146.7 399.3 1147.0C401.1 1147.2 401.3 1147.0 402.3 1149.9C403.3 1152.9 404.0 1159.5 405.2 1164.6C406.4 1169.8 407.9 1176.1 409.6 1180.8C411.3 1185.4 414.0 1189.9 415.5 1192.5C417.0 1195.2 417.0 1196.7 418.5 1197.0C419.9 1197.2 422.6 1194.1 424.3 1194.0C426.0 1193.9 427.0 1196.2 428.7 1196.2C430.5 1196.2 432.7 1195.1 434.6 1194.0C436.6 1192.9 438.5 1192.5 440.5 1189.6C442.5 1186.7 444.8 1182.3 446.4 1176.4C448.0 1170.5 448.1 1159.5 450.1 1154.3C452.0 1149.2 455.6 1149.9 458.1 1145.5C460.7 1141.1 463.0 1135.0 465.5 1127.9C467.9 1120.8 470.1 1111.0 472.8 1102.9C475.5 1094.8 478.7 1087.2 481.7 1079.4C484.6 1071.5 487.5 1063.4 490.5 1055.9C493.4 1048.3 496.4 1042.5 499.3 1033.8C502.2 1025.1 505.2 1013.2 507.9 1003.8C510.6 994.4 513.0 986.5 515.6 977.4C518.2 968.2 520.7 957.5 523.3 948.7C525.9 939.9 528.6 931.1 531.0 924.4C533.4 917.8 535.4 913.8 537.6 909.0C539.8 904.2 542.2 900.6 544.3 895.8C546.3 891.0 547.7 884.8 549.8 880.4C551.8 875.9 554.2 873.4 556.4 869.3C558.6 865.3 560.8 860.5 563.0 856.1C565.2 851.7 567.6 845.8 569.6 842.9C571.6 839.9 573.5 839.4 575.1 838.5C576.8 837.5 577.9 837.2 579.5 837.4C581.2 837.5 583.2 838.6 585.0 839.6C586.9 840.5 588.3 842.3 590.6 842.9C592.8 843.4 595.9 842.1 598.3 842.9C600.7 843.6 602.7 845.8 604.9 847.3C607.1 848.8 608.9 851.1 611.5 851.7C614.1 852.2 618.1 851.5 620.3 850.6C622.5 849.7 622.9 848.8 624.7 846.2C626.6 843.6 629.1 838.6 631.3 835.2C633.5 831.7 635.9 827.4 638.0 825.2C640.0 823.0 641.6 821.7 643.5 821.9C645.3 822.1 647.1 824.0 649.0 826.3C650.8 828.7 652.7 832.0 654.5 836.3C656.3 840.5 658.0 845.4 660.0 851.7C662.0 857.9 664.4 866.4 666.6 873.7C668.8 881.1 671.0 888.4 673.2 895.8C675.4 903.1 677.6 910.5 679.8 917.8C682.0 925.2 684.3 932.5 686.5 939.9C688.7 947.2 690.9 954.9 693.1 961.9C695.3 968.9 697.5 975.2 699.7 981.8C701.9 988.4 704.3 995.9 706.3 1001.6C708.3 1007.3 709.6 1010.3 711.7 1016.2C713.8 1022.0 716.6 1029.9 719.0 1036.7C721.5 1043.6 724.4 1052.2 726.4 1057.3C728.3 1062.5 729.6 1065.4 730.8 1067.6C732.0 1069.8 732.6 1070.8 733.7 1070.6C734.8 1070.3 736.2 1069.6 737.4 1066.1C738.6 1062.7 740.0 1054.9 741.1 1050.0C742.2 1045.1 742.8 1039.8 744.0 1036.7C745.2 1033.7 746.7 1032.9 748.4 1031.6C750.1 1030.3 752.5 1029.6 754.3 1028.7C756.1 1027.7 758.1 1025.1 759.4 1025.7C760.8 1026.3 761.4 1028.3 762.4 1032.3C763.4 1036.4 764.2 1042.6 765.3 1050.0C766.4 1057.3 767.7 1068.6 769.0 1076.4C770.3 1084.3 771.9 1091.4 773.4 1097.0C774.9 1102.6 776.1 1106.6 777.8 1110.2C779.5 1113.9 782.1 1117.2 783.7 1119.1C785.3 1120.9 786.2 1121.3 787.4 1121.3C788.6 1121.3 789.9 1118.7 791.0 1119.1C792.2 1119.4 793.1 1120.5 794.0 1123.5C794.8 1126.4 795.2 1132.5 796.2 1136.7C797.2 1140.9 798.3 1145.3 799.9 1148.5C801.5 1151.6 803.3 1153.8 805.7 1155.8C808.2 1157.8 811.9 1158.7 814.6 1160.2C817.3 1161.7 819.3 1162.7 821.9 1164.6C824.5 1166.6 827.4 1169.3 830.0 1172.0C832.6 1174.7 834.9 1178.1 837.3 1180.8C839.8 1183.5 842.2 1186.1 844.7 1188.1C847.1 1190.2 849.1 1191.7 852.0 1193.3C855.0 1194.9 858.7 1196.5 862.3 1197.7C866.0 1198.9 869.7 1199.9 874.1 1200.6C878.5 1201.4 883.9 1201.9 888.8 1202.1C893.7 1202.3 898.6 1202.2 903.5 1202.1C908.4 1202.0 913.3 1201.9 918.2 1201.4C923.1 1200.9 928.0 1200.1 932.9 1199.2C937.8 1198.2 942.7 1196.6 947.6 1195.5C952.5 1194.4 957.4 1193.6 962.3 1192.5C967.2 1191.4 972.8 1190.0 977.0 1188.9C981.1 1187.8 984.8 1187.0 987.3 1185.9C989.7 1184.8 990.2 1183.8 991.7 1182.3C993.1 1180.7 994.6 1177.6 996.1 1176.4C997.6 1175.2 998.8 1174.9 1000.5 1174.9C1002.2 1174.9 1004.4 1176.5 1006.4 1176.4C1008.3 1176.3 1010.3 1175.0 1012.3 1174.2C1014.2 1173.3 1016.2 1172.1 1018.1 1171.2C1020.1 1170.4 1022.1 1169.2 1024.0 1169.0C1026.0 1168.9 1027.9 1169.5 1029.9 1170.5C1031.9 1171.5 1033.8 1173.8 1035.8 1174.9C1037.7 1176.0 1039.2 1176.5 1041.7 1177.1C1044.1 1177.7 1047.5 1178.3 1050.5 1178.6C1053.4 1178.8 1056.4 1178.3 1059.3 1178.6C1062.2 1178.8 1065.2 1179.4 1068.1 1180.1C1071.0 1180.7 1074.0 1181.5 1076.9 1182.3C1079.9 1183.0 1083.4 1183.2 1085.7 1184.5C1088.1 1185.7 1089.4 1188.0 1090.9 1189.6C1092.4 1191.2 1093.5 1194.3 1094.6 1194.0C1095.7 1193.8 1096.5 1190.8 1097.5 1188.1C1098.5 1185.4 1099.2 1180.4 1100.4 1177.8C1101.7 1175.3 1103.3 1173.9 1104.9 1172.7C1106.4 1171.5 1107.7 1170.7 1110.0 1170.5C1112.3 1170.3 1115.9 1170.7 1118.8 1171.2C1121.8 1171.7 1124.7 1172.2 1127.6 1173.4C1130.6 1174.7 1134.0 1176.6 1136.5 1178.6C1138.9 1180.5 1140.4 1182.6 1142.3 1185.2C1144.3 1187.8 1146.5 1191.9 1148.2 1194.0C1149.9 1196.1 1150.9 1197.7 1152.6 1197.7C1154.3 1197.7 1156.3 1194.9 1158.5 1194.0C1160.7 1193.2 1163.6 1192.1 1165.9 1192.5C1168.1 1193.0 1170.0 1195.9 1171.7 1197.0C1173.4 1198.1 1174.2 1199.4 1176.1 1199.2C1178.1 1198.9 1180.8 1196.5 1183.5 1195.5C1186.2 1194.5 1189.4 1193.6 1192.3 1193.3C1195.2 1192.9 1198.2 1192.8 1201.1 1193.3C1204.1 1193.8 1206.8 1195.5 1209.9 1196.2C1213.1 1197.0 1217.3 1197.3 1220.2 1197.7C1223.2 1198.1 1225.1 1198.4 1227.6 1198.4C1230.0 1198.4 1232.5 1197.7 1234.9 1197.7C1237.4 1197.7 1240.3 1197.9 1242.3 1198.4C1244.2 1198.9 1245.0 1201.0 1246.7 1200.6C1248.4 1200.3 1250.4 1197.2 1252.6 1196.2C1254.8 1195.2 1257.5 1195.4 1259.9 1194.8C1262.4 1194.1 1264.4 1195.1 1267.3 1192.5C1270.2 1190.0 1274.4 1182.3 1277.3 1179.3C1280.2 1176.3 1282.6 1177.7 1284.6 1174.4C1286.7 1171.2 1287.9 1166.3 1289.5 1159.8C1291.1 1153.3 1293.0 1144.8 1294.4 1135.4C1295.8 1126.1 1296.8 1117.1 1298.0 1103.7C1299.2 1090.3 1300.5 1071.2 1301.7 1055.0C1302.9 1038.7 1304.1 1022.5 1305.3 1006.2C1306.6 990.0 1307.8 972.9 1309.0 957.5C1310.2 942.1 1311.6 924.6 1312.7 913.6C1313.7 902.7 1314.3 896.4 1315.1 891.7C1315.9 887.0 1316.7 885.2 1317.5 885.6C1318.3 886.0 1319.2 889.0 1320.0 894.1C1320.8 899.2 1321.6 907.9 1322.4 916.1C1323.2 924.2 1323.8 935.6 1324.8 942.9C1325.9 950.2 1327.3 956.5 1328.5 959.9C1329.7 963.4 1330.9 963.4 1332.2 963.6C1333.4 963.8 1334.6 960.5 1335.8 961.1C1337.0 961.8 1338.4 964.2 1339.5 967.2C1340.5 970.3 1340.9 975.2 1341.9 979.4C1342.9 983.7 1344.5 990.2 1345.6 992.8C1346.7 995.5 1347.5 996.3 1348.5 995.3C1349.5 994.3 1350.7 991.8 1351.7 986.7C1352.6 981.7 1353.3 972.5 1354.1 964.8C1354.9 957.1 1355.7 948.1 1356.5 940.4C1357.3 932.7 1358.1 924.4 1359.0 918.5C1359.8 912.6 1360.5 908.1 1361.4 905.1C1362.3 902.0 1363.3 899.2 1364.3 900.2C1365.3 901.2 1366.6 904.9 1367.5 911.2C1368.4 917.5 1369.1 928.2 1369.9 938.0C1370.7 947.7 1371.6 958.3 1372.4 969.7C1373.2 981.1 1373.8 992.0 1374.8 1006.2C1375.8 1020.5 1377.2 1040.8 1378.5 1055.0C1379.7 1069.2 1380.9 1079.4 1382.1 1091.5C1383.3 1103.7 1384.6 1117.1 1385.8 1128.1C1387.0 1139.1 1388.2 1148.4 1389.4 1157.4C1390.6 1166.3 1392.1 1176.4 1393.1 1181.7C1394.1 1187.0 1394.7 1190.8 1395.6 1189.3C1396.5 1187.7 1397.5 1180.9 1398.4 1172.6C1399.3 1164.2 1400.4 1149.4 1401.2 1139.1C1402.0 1128.9 1402.7 1118.0 1403.4 1111.3C1404.2 1104.6 1404.8 1101.4 1405.7 1099.0C1406.5 1096.6 1407.4 1095.7 1408.4 1096.8C1409.5 1097.9 1410.8 1102.4 1411.8 1105.7C1412.8 1109.1 1413.6 1114.5 1414.6 1116.9C1415.5 1119.2 1416.4 1120.6 1417.4 1119.6C1418.3 1118.7 1419.1 1116.4 1420.1 1111.3C1421.2 1106.2 1422.4 1096.8 1423.5 1089.0C1424.6 1081.2 1425.9 1072.9 1426.8 1064.5C1427.7 1056.1 1428.2 1043.1 1429.0 1038.5C1429.7 1033.9 1430.4 1035.1 1431.2 1036.7C1431.9 1038.4 1433.1 1042.6 1433.7 1048.5C1434.2 1054.4 1433.9 1063.7 1434.6 1072.3C1435.3 1080.9 1436.9 1092.0 1438.0 1100.1C1439.1 1108.3 1440.3 1117.2 1441.3 1121.3C1442.3 1125.4 1443.0 1125.8 1444.1 1124.7C1445.2 1123.5 1446.6 1118.7 1448.0 1114.6C1449.4 1110.5 1451.0 1103.5 1452.5 1100.1C1453.9 1096.8 1455.4 1097.4 1456.9 1094.6C1458.4 1091.8 1460.1 1087.0 1461.4 1083.4C1462.7 1079.9 1463.8 1075.3 1464.7 1073.4C1465.6 1071.4 1466.0 1070.8 1466.9 1071.7C1467.9 1072.7 1469.2 1075.2 1470.3 1079.0C1471.4 1082.8 1472.3 1089.0 1473.6 1094.6C1474.9 1100.1 1476.6 1106.8 1478.1 1112.4C1479.6 1118.0 1480.9 1123.0 1482.5 1128.0C1484.2 1133.0 1486.2 1138.4 1488.1 1142.5C1490.0 1146.6 1491.6 1149.7 1493.7 1152.5C1495.7 1155.3 1498.1 1157.4 1500.4 1159.2C1502.6 1161.0 1504.8 1162.3 1507.0 1163.1C1509.3 1163.8 1511.5 1163.9 1513.7 1163.6C1516.0 1163.4 1518.2 1162.1 1520.4 1161.4C1522.6 1160.8 1525.4 1159.6 1527.1 1159.7C1528.8 1159.9 1529.3 1160.8 1530.4 1162.5C1531.6 1164.3 1532.7 1167.7 1533.8 1170.3C1534.9 1172.9 1536.0 1176.5 1537.1 1178.1C1538.2 1179.8 1539.4 1180.7 1540.5 1180.4C1541.6 1180.0 1542.5 1178.1 1543.8 1175.9C1545.1 1173.7 1546.8 1169.4 1548.3 1167.0C1549.8 1164.6 1551.2 1162.5 1552.7 1161.4C1554.2 1160.3 1555.7 1160.1 1557.2 1160.3C1558.7 1160.5 1559.5 1160.9 1561.6 1162.5C1563.8 1164.2 1568.0 1168.1 1570.0 1170.3C1572.0 1172.5 1571.9 1174.0 1573.7 1175.6C1575.6 1177.3 1578.6 1179.0 1581.1 1180.1C1583.5 1181.2 1586.0 1181.3 1588.4 1182.3C1590.9 1183.2 1593.3 1184.6 1595.8 1185.9C1598.2 1187.3 1600.7 1189.1 1603.1 1190.3C1605.6 1191.6 1607.8 1192.5 1610.5 1193.3C1613.2 1194.0 1616.4 1194.6 1619.3 1194.8C1622.2 1194.9 1624.7 1194.8 1628.1 1194.0C1631.5 1193.3 1635.9 1191.8 1639.9 1190.3C1643.8 1188.9 1648.4 1187.0 1651.6 1185.2C1654.8 1183.4 1656.8 1181.5 1659.0 1179.3C1661.2 1177.1 1663.4 1174.2 1664.9 1172.0C1666.3 1169.7 1665.5 1168.4 1667.6 1165.9C1669.8 1163.4 1674.3 1160.4 1677.7 1157.1C1681.0 1153.8 1683.9 1150.4 1687.7 1145.8C1691.4 1141.2 1696.5 1133.5 1700.2 1129.5C1704.0 1125.6 1706.9 1124.3 1710.3 1122.0C1713.6 1119.7 1716.5 1118.5 1720.3 1115.7C1724.0 1113.0 1728.6 1108.8 1732.8 1105.7C1737.0 1102.6 1741.6 1100.1 1745.3 1096.9C1749.1 1093.8 1753.0 1089.2 1755.4 1086.9C1757.8 1084.6 1759.1 1083.8 1759.9 1083.1"/>
</g>
<g class="k">
<path d="M525.5 109.5L575 123.5L575 168"/>
<path d="M1264.5 558.8L1315.2 572.8L1315.2 619"/>
<path d="M1399.8 580L1363 598.5L1363 645"/>
<path d="M1460.6 801.4L1422.8 820L1422.8 866.5"/>
<path d="M1494.6 936.6L1458 955.2L1458 1000.8"/>
</g>
<g class="t">
<text x="243.5" y="1222.2" text-anchor="end">0.00</text>
<text x="243.5" y="1043.9" text-anchor="end">0.05</text>
<text x="243.5" y="865.5" text-anchor="end">0.10</text>
<text x="243.5" y="687.2" text-anchor="end">0.15</text>
<text x="243.5" y="508.9" text-anchor="end">0.20</text>
<text x="243.5" y="330.5" text-anchor="end">0.25</text>
<text x="243.5" y="152.2" text-anchor="end">0.30</text>
<text x="282.5" y="1291" text-anchor="middle">4000</text>
<text x="503.1" y="1291" text-anchor="middle">3500</text>
<text x="723.8" y="1291" text-anchor="middle">3000</text>
<text x="944.4" y="1291" text-anchor="middle">2500</text>
<text x="1165.1" y="1291" text-anchor="middle">2000</text>
<text x="1385.7" y="1291" text-anchor="middle">1500</text>
<text x="1606.4" y="1291" text-anchor="middle">1000</text>
<text x="1827.0" y="1291" text-anchor="middle">500</text>
<text x="1065.3" y="1408" font-size="62" text-anchor="middle">Wavenumber (cm<tspan font-size="38" dy="-28.5">−1</tspan><tspan dy="28.5">)</tspan></text>
<text transform="translate(77.3 666.6) rotate(-90)" font-size="62" text-anchor="middle">Absorbance (a.u.)</text>
</g>
<g class="a">
<text x="506.5" y="124" text-anchor="end">3333</text>
<text x="1258" y="573.5" text-anchor="end">1569</text>
<text x="1421" y="580">1551</text>
<text x="1464" y="812.8">1456</text>
<text x="1500" y="956.5">1406</text>
</g>
<g class="t">
<path d="M1384 107H1520.5" stroke="#0000ff" stroke-width="8" stroke-linecap="round" fill="none"/>
<text x="1537" y="129.3">AH</text>
<path d="M1384 184.9H1520.5" stroke="#00ffff" stroke-width="8" stroke-linecap="round" fill="none"/>
<text x="1537" y="207.2">Cu-EDDS</text>
<path d="M1384 262.8H1520.5" stroke="#008080" stroke-width="8" stroke-linecap="round" fill="none"/>
<text x="1537" y="285.1">Zn-EDDS</text>
<path d="M1384 340.7H1520.5" stroke="#0000a0" stroke-width="8" stroke-linecap="round" fill="none"/>
<text x="1537" y="363.0">Mn-EDDS</text>
<path d="M1384 418.6H1520.5" stroke="#008000" stroke-width="8" stroke-linecap="round" fill="none"/>
<text x="1537" y="440.9">Fe-EDDS</text>
</g>
</svg></body></html>
